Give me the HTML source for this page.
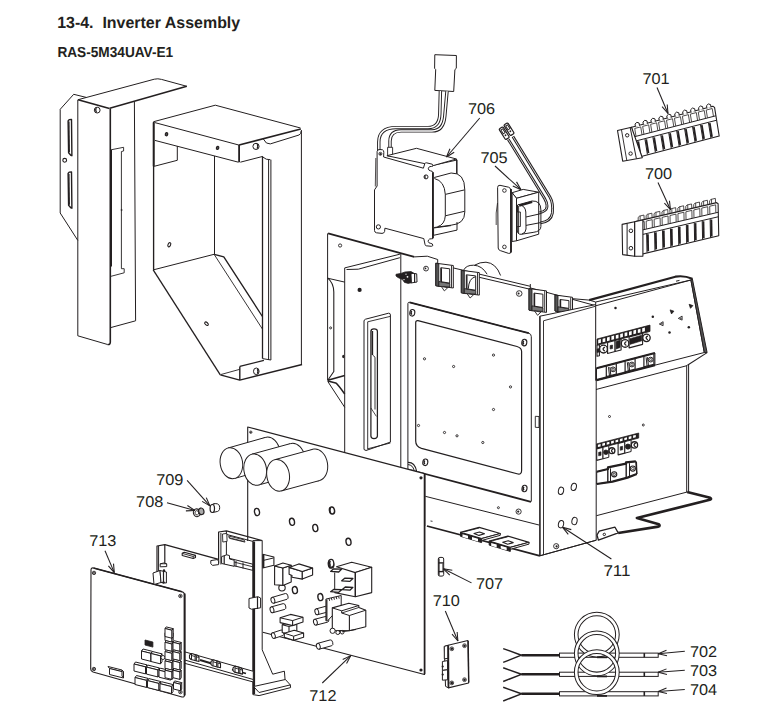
<!DOCTYPE html>
<html><head><meta charset="utf-8"><style>
html,body{margin:0;padding:0;background:#fff;}
svg{display:block;}
text{font-family:"Liberation Sans",sans-serif;fill:#231f20;text-rendering:geometricPrecision;}
</style></head><body>
<svg width="770" height="723" viewBox="0 0 770 723">
<text x="57.2" y="28.25" font-size="16.2" font-weight="bold" textLength="183.0" lengthAdjust="spacingAndGlyphs">13-4.&#160; Inverter Assembly</text>
<text x="57.4" y="56.85" font-size="14.5" font-weight="bold" textLength="115.8" lengthAdjust="spacingAndGlyphs">RAS-5M34UAV-E1</text>
<polyline points="86.2,97.4 73.7,94.3 60.2,109.3 60.2,213 77.8,240.4" fill="none" stroke="#231f20" stroke-width="1.0" stroke-linejoin="round" />
<polygon points="68.1,121 69.2,119.6 71.5,119.4 71.9,155.7 70.8,155.3 68.6,152.8" fill="none" stroke="#231f20" stroke-width="1.4" stroke-linejoin="round" />
<line x1="68.9" y1="121.4" x2="69.3" y2="152.3" stroke="#231f20" stroke-width="1.3" />
<polygon points="68.1,173.5 69.2,172.1 71.5,171.9 71.9,208.2 70.8,207.8 68.6,205.3" fill="none" stroke="#231f20" stroke-width="1.4" stroke-linejoin="round" />
<line x1="68.9" y1="173.9" x2="69.3" y2="204.8" stroke="#231f20" stroke-width="1.3" />
<circle cx="64.7" cy="160.3" r="1.9" fill="#fff" stroke="#231f20" stroke-width="1.1"/>
<path d="M78.1,99.7 L154.3,79.2 Q157.8,78.3 161.5,79.4 L186.8,86.3" fill="none" stroke="#231f20" stroke-width="1.0" stroke-linejoin="round" />
<line x1="186.8" y1="86.3" x2="109.7" y2="108.3" stroke="#231f20" stroke-width="1.5" />
<line x1="78.1" y1="99.7" x2="109.5" y2="108.4" stroke="#231f20" stroke-width="1.6" />
<polyline points="77.8,99.7 77.8,335.8 107.6,344.5" fill="none" stroke="#231f20" stroke-width="1.0" stroke-linejoin="round" />
<path d="M107.6,344.5 Q110.3,345 110.3,342 L110.3,108.4" fill="none" stroke="#231f20" stroke-width="1.6" stroke-linejoin="round" />
<line x1="111.2" y1="150" x2="111.2" y2="266.6" stroke="#231f20" stroke-width="1.6" />
<line x1="134.4" y1="101.8" x2="135.6" y2="320.8" stroke="#231f20" stroke-width="1.0" />
<line x1="135.6" y1="320.8" x2="111" y2="327.5" stroke="#231f20" stroke-width="1.0" />
<polyline points="111,149.8 123.6,147.3 123.6,151 121.4,151.5 121.4,268.7 124.2,268.7 124.2,272.8 111,276.3" fill="none" stroke="#231f20" stroke-width="0.9" stroke-linejoin="round" />
<circle cx="97.2" cy="110.1" r="2.9" fill="#fff" stroke="#231f20" stroke-width="1.0"/>
<path d="M96.2,108 Q95,110.2 96.4,112.4" fill="none" stroke="#231f20" stroke-width="1.4" stroke-linejoin="round" />
<circle cx="121.6" cy="210" r="0.6" fill="none" stroke="#231f20" stroke-width="0.9"/>
<polyline points="153.6,121.7 215.3,105.2 300.5,128" fill="none" stroke="#231f20" stroke-width="1.0" stroke-linejoin="round" />
<line x1="154.5" y1="122.5" x2="239.1" y2="145.1" stroke="#231f20" stroke-width="1.0" />
<line x1="239.1" y1="145.1" x2="300.8" y2="128.9" stroke="#231f20" stroke-width="1.6" />
<line x1="154.9" y1="140.4" x2="238.4" y2="162.2" stroke="#231f20" stroke-width="1.0" />
<line x1="153.6" y1="121.7" x2="153.6" y2="269.9" stroke="#231f20" stroke-width="1.35" />
<line x1="153.7" y1="122.5" x2="153.7" y2="166.3" stroke="#231f20" stroke-width="1.9" />
<line x1="239.1" y1="145.1" x2="239.1" y2="162.2" stroke="#231f20" stroke-width="1.8" />
<polyline points="240.3,162.2 262.8,156.4" fill="none" stroke="#231f20" stroke-width="1.0" stroke-linejoin="round" />
<path d="M263.4,139.1 Q266,144.5 270.3,143.9 L299,135 Q301.2,134 301.2,131" fill="none" stroke="#231f20" stroke-width="1.0" stroke-linejoin="round" />
<line x1="301.4" y1="130" x2="301.4" y2="364.5" stroke="#231f20" stroke-width="1.0" />
<circle cx="256" cy="146.4" r="3.1" fill="#fff" stroke="#231f20" stroke-width="1.0"/>
<path d="M257.2,144.2 Q258.6,146.4 257.2,148.6" fill="none" stroke="#231f20" stroke-width="1.4" stroke-linejoin="round" />
<ellipse cx="166.5" cy="134.2" rx="1.2" ry="1.6" transform="rotate(15 166.5 134.2)" fill="#555" stroke="#231f20" stroke-width="1.2"/>
<ellipse cx="217.6" cy="147.9" rx="1.2" ry="1.6" transform="rotate(15 217.6 147.9)" fill="#555" stroke="#231f20" stroke-width="1.2"/>
<polyline points="177.3,146 177.3,160.3 154.2,166.3" fill="none" stroke="#231f20" stroke-width="1.0" stroke-linejoin="round" />
<line x1="214.5" y1="156" x2="214.5" y2="254.3" stroke="#231f20" stroke-width="1.0" />
<line x1="262.5" y1="156.4" x2="262.5" y2="358.6" stroke="#231f20" stroke-width="1.3" />
<path d="M262.8,157 Q266,160 270.3,159.7" fill="none" stroke="#231f20" stroke-width="1.0" stroke-linejoin="round" />
<line x1="268.6" y1="160" x2="268.6" y2="360" stroke="#231f20" stroke-width="1.0" />
<line x1="270.9" y1="159.7" x2="270.9" y2="360" stroke="#231f20" stroke-width="1.0" />
<line x1="262.5" y1="358.6" x2="270.9" y2="360" stroke="#231f20" stroke-width="1.0" />
<line x1="153.2" y1="269.9" x2="214.1" y2="254.3" stroke="#231f20" stroke-width="1.0" />
<polyline points="214.1,254.3 223.8,256.8 262.4,316.5" fill="none" stroke="#231f20" stroke-width="1.35" stroke-linejoin="round" />
<line x1="214.1" y1="254.3" x2="262.4" y2="329" stroke="#231f20" stroke-width="0.9" />
<line x1="153.2" y1="269.9" x2="220.3" y2="374.9" stroke="#231f20" stroke-width="1.3" />
<polyline points="220.3,374.9 239.8,380.1 302.1,364.5" fill="none" stroke="#231f20" stroke-width="1.4" stroke-linejoin="round" />
<line x1="239.8" y1="366.4" x2="239.8" y2="380.1" stroke="#231f20" stroke-width="1.4" />
<line x1="239.8" y1="366.4" x2="263.9" y2="360.4" stroke="#231f20" stroke-width="1.4" />
<line x1="221" y1="374.5" x2="239.8" y2="369.3" stroke="#231f20" stroke-width="0.9" />
<ellipse cx="169.3" cy="244.8" rx="1.3" ry="2.2" transform="rotate(25 169.3 244.8)" fill="#fff" stroke="#231f20" stroke-width="1.1"/>
<ellipse cx="206.5" cy="323.7" rx="1.3" ry="2.1" transform="rotate(-50 206.5 323.7)" fill="#fff" stroke="#231f20" stroke-width="1.1"/>
<ellipse cx="256.3" cy="371.3" rx="2.8" ry="3.3" transform="rotate(0 256.3 371.3)" fill="#fff" stroke="#231f20" stroke-width="1.0"/>
<path d="M257.4,369.2 Q258.8,371.4 257.4,373.6" fill="none" stroke="#231f20" stroke-width="1.5" stroke-linejoin="round" />
<polygon points="434.8,54.7 456.4,55.5 456.3,68.3 454.9,69.6 453.7,91.5 434.8,90.4 435.7,69.6 434.6,68.3" fill="#fff" stroke="#231f20" stroke-width="1.0" stroke-linejoin="round" />
<path d="M440.4,91 L439.8,114 Q439.4,127.6 428,127.6 L396,127.6 Q378.8,127.8 378.8,142 L378.8,151" fill="none" stroke="#231f20" stroke-width="3.4" stroke-linejoin="round" stroke-linecap="butt"/>
<path d="M440.4,91 L439.8,114 Q439.4,127.6 428,127.6 L396,127.6 Q378.8,127.8 378.8,142 L378.8,151" fill="none" stroke="#fff" stroke-width="1.5" stroke-linejoin="round" stroke-linecap="butt"/>
<path d="M447,91.3 L444.8,116 Q443.6,130.9 432,130.9 L401,130.9 Q390,131.2 390,141 L390,148" fill="none" stroke="#231f20" stroke-width="3.4" stroke-linejoin="round" stroke-linecap="butt"/>
<path d="M447,91.3 L444.8,116 Q443.6,130.9 432,130.9 L401,130.9 Q390,131.2 390,141 L390,148" fill="none" stroke="#fff" stroke-width="1.5" stroke-linejoin="round" stroke-linecap="butt"/>
<polygon points="387.6,147.3 392.6,147.3 392.6,156 387.6,156" fill="#fff" stroke="#231f20" stroke-width="0.9" stroke-linejoin="round" />
<polyline points="433.6,165.2 457,160 457,174.5" fill="none" stroke="#231f20" stroke-width="1.0" stroke-linejoin="round" />
<polygon points="386.9,155.7 416.5,148.3 456.4,159 433.6,165.5" fill="#fff" stroke="#231f20" stroke-width="1.0" stroke-linejoin="round" />
<line x1="456.6" y1="159" x2="456.6" y2="176" stroke="#231f20" stroke-width="1.0" />
<path d="M377.1,151.5 Q377.3,149.3 380,149.5 L382.5,149.8 Q384,150.3 383.8,152.5 L383.6,157 L423.4,168.2 L424.8,163.6 Q425.2,162.6 426.5,162.8 L432.2,164.2 Q433.2,164.6 433,166 Q431.8,166.6 430,166.6 Q428.2,167.2 428.3,168.8 Q428.6,170.6 430.5,170.8 Q432.6,171 433,172.6 L433,238.6 Q431.2,238.8 429.6,239 Q428,239.8 428.2,241.6 Q428.6,243.2 430.8,243.4 Q432.8,243.6 432.8,245.2 Q432.6,246.4 431.4,246.3 L426.2,245.8 Q425.2,245.6 425,244.4 L423.8,238.6 L384.9,228.2 L384.6,231.5 Q384,233.5 382,233.4 L376.5,232.8 Q374.5,232.4 374.5,230.5 L374.5,189.9 L377.1,186 Z" fill="#fff" stroke="#231f20" stroke-width="1.0" stroke-linejoin="round" />
<line x1="375.8" y1="158" x2="375.3" y2="186.5" stroke="#231f20" stroke-width="0.8" />
<line x1="432.9" y1="172.2" x2="432.9" y2="238" stroke="#231f20" stroke-width="1.8" />
<circle cx="380.4" cy="153.8" r="1.5" fill="#fff" stroke="#231f20" stroke-width="0.9"/>
<circle cx="380.4" cy="154" r="0.9" fill="#231f20"/>
<circle cx="426" cy="176.9" r="2" fill="#fff" stroke="#231f20" stroke-width="1.0"/>
<path d="M425.3,175.3 Q424.5,176.9 425.3,178.5" fill="none" stroke="#231f20" stroke-width="1.2" stroke-linejoin="round" />
<circle cx="378.4" cy="226.9" r="2.1" fill="#fff" stroke="#231f20" stroke-width="1.0"/>
<path d="M434.2,177.5 L451.1,173 Q464.8,172.5 464.8,189.9 L464.8,212 Q464.8,224 451.1,225.2 L434.2,227.5" fill="#fff" stroke="#231f20" stroke-width="1.0" stroke-linejoin="round" />
<path d="M434.4,178.5 Q444.6,181 445.3,194.4 L445.3,215.8 Q444.8,224.5 437.5,226.8" fill="none" stroke="#231f20" stroke-width="1.0" stroke-linejoin="round" />
<line x1="445.3" y1="194.4" x2="464.5" y2="189.9" stroke="#231f20" stroke-width="1.0" />
<line x1="445.3" y1="215.8" x2="464.5" y2="211.3" stroke="#231f20" stroke-width="1.0" />
<polyline points="433.6,228.5 433.6,235.3 457,230.1 457,222" fill="none" stroke="#231f20" stroke-width="1.0" stroke-linejoin="round" />
<line x1="433.6" y1="228" x2="451" y2="225.6" stroke="#231f20" stroke-width="1.0" />
<path d="M508.3,139.4 L544.6,198.5 Q548.6,205.5 546,209.5 Q544,212 539.5,212.6" fill="none" stroke="#231f20" stroke-width="2.8" stroke-linejoin="round" stroke-linecap="butt"/>
<path d="M508.3,139.4 L544.6,198.5 Q548.6,205.5 546,209.5 Q544,212 539.5,212.6" fill="none" stroke="#fff" stroke-width="0.8" stroke-linejoin="round" stroke-linecap="butt"/>
<path d="M512.9,136.6 L549.8,196.8 Q553.5,203 552.4,213 Q551,221.5 540.5,222.8" fill="none" stroke="#231f20" stroke-width="2.8" stroke-linejoin="round" stroke-linecap="butt"/>
<path d="M512.9,136.6 L549.8,196.8 Q553.5,203 552.4,213 Q551,221.5 540.5,222.8" fill="none" stroke="#fff" stroke-width="0.8" stroke-linejoin="round" stroke-linecap="butt"/>
<rect x="501.9" y="126.89999999999999" width="4.6" height="12.6" rx="1.2" transform="rotate(-32 504.2 133.2)" fill="#fff" stroke="#231f20" stroke-width="1.2"/>
<rect x="503.09999999999997" y="128.7" width="2.2" height="4.5" transform="rotate(-32 504.2 133.2)" fill="none" stroke="#231f20" stroke-width="0.9"/>
<circle cx="504.2" cy="135.7" r="0.9" fill="#231f20" transform="rotate(-32 504.2 133.2)"/>
<rect x="506.7" y="122.89999999999999" width="4.6" height="12.6" rx="1.2" transform="rotate(-32 509 129.2)" fill="#fff" stroke="#231f20" stroke-width="1.2"/>
<rect x="507.9" y="124.69999999999999" width="2.2" height="4.5" transform="rotate(-32 509 129.2)" fill="none" stroke="#231f20" stroke-width="0.9"/>
<circle cx="509" cy="131.7" r="0.9" fill="#231f20" transform="rotate(-32 509 129.2)"/>
<path d="M497.6,187.5 Q497.7,185 500,185.3 L508.6,187.2 Q510.6,187.8 510.7,190 L511,251.5 Q511,253.8 508.6,253.4 L500.3,250.6 Q498.3,250 498.2,248 Z" fill="none" stroke="#231f20" stroke-width="1.0" stroke-linejoin="round" />
<line x1="511" y1="189" x2="511" y2="252.5" stroke="#231f20" stroke-width="1.8" />
<path d="M497.5,203 Q495.5,212 496.2,225" fill="none" stroke="#231f20" stroke-width="0.8" stroke-linejoin="round" />
<circle cx="504.4" cy="190.5" r="1.8" fill="#fff" stroke="#231f20" stroke-width="0.9"/>
<circle cx="504.4" cy="246.9" r="1.8" fill="#fff" stroke="#231f20" stroke-width="0.9"/>
<polygon points="512.1,192.7 523.2,189.4 538.7,192.2 516.5,198.3" fill="#fff" stroke="#231f20" stroke-width="1.0" stroke-linejoin="round" />
<polygon points="512.1,192.7 516.5,198.3 516.5,240.8 512.1,241.5" fill="#fff" stroke="#231f20" stroke-width="1.0" stroke-linejoin="round" />
<polygon points="516.5,198.3 538.7,192.2 538.7,234.2 516.5,240.8" fill="#fff" stroke="#231f20" stroke-width="1.0" stroke-linejoin="round" />
<path d="M517.5,205 L532,201 Q540.9,200.5 540.9,210 L540.9,226.5 Q540.9,231.5 533.1,232.4 L521,234.3 Q517.3,234.5 517.3,230 Z" fill="none" stroke="#231f20" stroke-width="1.0" stroke-linejoin="round" />
<path d="M518.5,204.5 Q525.4,205.5 525.8,212 L526,229 Q525.8,233 522,234" fill="none" stroke="#231f20" stroke-width="1.0" stroke-linejoin="round" />
<line x1="526" y1="217" x2="540.6" y2="213.7" stroke="#231f20" stroke-width="1.0" />
<line x1="526" y1="225.4" x2="540.6" y2="222.6" stroke="#231f20" stroke-width="1.0" />
<polygon points="517.2,212 520.4,212 520.4,226.5 517.2,226.5" fill="#fff" stroke="#231f20" stroke-width="0.9" stroke-linejoin="round" />
<line x1="519.2" y1="205.6" x2="532.2" y2="202" stroke="#231f20" stroke-width="2.2" />
<line x1="518.6" y1="206" x2="518.6" y2="233.5" stroke="#231f20" stroke-width="0.9" />
<polygon points="631.5,127.2 712.85,106.28 714.55,107.39 719.19,136.01 636.46,157.8" fill="#fff" stroke="#231f20" stroke-width="1.1" stroke-linejoin="round" />
<line x1="634.55" y1="136.7" x2="715.91" y2="115.78" stroke="#231f20" stroke-width="1.0" />
<line x1="635.56" y1="141.06" x2="716.63" y2="120.22" stroke="#231f20" stroke-width="1.0" />
<polyline points="635.97,136.13 634.73,128.43 640.73,126.88 641.98,134.58" fill="none" stroke="#231f20" stroke-width="0.8" stroke-linejoin="round" />
<path d="M635.45,126.7 L635.02,124.03 Q636.67,121.14 639.09,122.99 L639.52,125.65" fill="#fff" stroke="#231f20" stroke-width="1.0" stroke-linejoin="round" />
<line x1="637" y1="141.21" x2="639.48" y2="156.51" stroke="#231f20" stroke-width="1.0" />
<line x1="638.24" y1="141.4" x2="640.48" y2="155.22" stroke="#231f20" stroke-width="1.9" />
<polyline points="643.92,134.08 642.67,126.39 648.67,124.84 649.92,132.54" fill="none" stroke="#231f20" stroke-width="0.8" stroke-linejoin="round" />
<path d="M643.4,124.66 L642.96,121.99 Q644.61,119.1 647.03,120.94 L647.46,123.61" fill="#fff" stroke="#231f20" stroke-width="1.0" stroke-linejoin="round" />
<line x1="644.94" y1="139.17" x2="647.42" y2="154.46" stroke="#231f20" stroke-width="1.0" />
<line x1="646.18" y1="139.36" x2="648.42" y2="153.18" stroke="#231f20" stroke-width="1.9" />
<polyline points="651.86,132.04 650.61,124.34 656.61,122.8 657.86,130.5" fill="none" stroke="#231f20" stroke-width="0.8" stroke-linejoin="round" />
<path d="M651.34,122.61 L650.91,119.95 Q652.56,117.06 654.97,118.9 L655.41,121.57" fill="#fff" stroke="#231f20" stroke-width="1.0" stroke-linejoin="round" />
<line x1="652.88" y1="137.12" x2="655.36" y2="152.42" stroke="#231f20" stroke-width="1.0" />
<line x1="654.12" y1="137.32" x2="656.36" y2="151.14" stroke="#231f20" stroke-width="1.9" />
<polyline points="659.8,130 658.55,122.3 664.56,120.76 665.8,128.46" fill="none" stroke="#231f20" stroke-width="0.8" stroke-linejoin="round" />
<path d="M659.28,120.57 L658.85,117.91 Q660.5,115.02 662.91,116.86 L663.35,119.53" fill="#fff" stroke="#231f20" stroke-width="1.0" stroke-linejoin="round" />
<line x1="660.82" y1="135.08" x2="663.3" y2="150.38" stroke="#231f20" stroke-width="1.0" />
<line x1="662.07" y1="135.28" x2="664.31" y2="149.1" stroke="#231f20" stroke-width="1.9" />
<polyline points="667.74,127.96 666.49,120.26 672.5,118.72 673.75,126.41" fill="none" stroke="#231f20" stroke-width="0.8" stroke-linejoin="round" />
<path d="M667.22,118.53 L666.79,115.87 Q668.44,112.97 670.86,114.82 L671.29,117.48" fill="#fff" stroke="#231f20" stroke-width="1.0" stroke-linejoin="round" />
<line x1="668.77" y1="133.04" x2="671.25" y2="148.34" stroke="#231f20" stroke-width="1.0" />
<line x1="670.01" y1="133.24" x2="672.25" y2="147.05" stroke="#231f20" stroke-width="1.9" />
<polyline points="675.68,125.92 674.43,118.22 680.44,116.67 681.69,124.37" fill="none" stroke="#231f20" stroke-width="0.8" stroke-linejoin="round" />
<path d="M675.16,116.49 L674.73,113.82 Q676.38,110.93 678.8,112.78 L679.23,115.44" fill="#fff" stroke="#231f20" stroke-width="1.0" stroke-linejoin="round" />
<line x1="676.71" y1="131" x2="679.19" y2="146.3" stroke="#231f20" stroke-width="1.0" />
<line x1="677.95" y1="131.19" x2="680.19" y2="145.01" stroke="#231f20" stroke-width="1.9" />
<polyline points="683.62,123.87 682.38,116.18 688.38,114.63 689.63,122.33" fill="none" stroke="#231f20" stroke-width="0.8" stroke-linejoin="round" />
<path d="M683.1,114.45 L682.67,111.78 Q684.32,108.89 686.74,110.74 L687.17,113.4" fill="#fff" stroke="#231f20" stroke-width="1.0" stroke-linejoin="round" />
<line x1="684.65" y1="128.96" x2="687.13" y2="144.26" stroke="#231f20" stroke-width="1.0" />
<line x1="685.89" y1="129.15" x2="688.13" y2="142.97" stroke="#231f20" stroke-width="1.9" />
<polyline points="691.57,121.83 690.32,114.13 696.32,112.59 697.57,120.29" fill="none" stroke="#231f20" stroke-width="0.8" stroke-linejoin="round" />
<path d="M691.05,112.4 L690.61,109.74 Q692.26,106.85 694.68,108.69 L695.11,111.36" fill="#fff" stroke="#231f20" stroke-width="1.0" stroke-linejoin="round" />
<line x1="692.59" y1="126.92" x2="695.07" y2="142.21" stroke="#231f20" stroke-width="1.0" />
<line x1="693.83" y1="127.11" x2="696.07" y2="140.93" stroke="#231f20" stroke-width="1.9" />
<polyline points="699.51,119.79 698.26,112.09 704.26,110.55 705.51,118.25" fill="none" stroke="#231f20" stroke-width="0.8" stroke-linejoin="round" />
<path d="M698.99,110.36 L698.56,107.7 Q700.21,104.81 702.62,106.65 L703.06,109.32" fill="#fff" stroke="#231f20" stroke-width="1.0" stroke-linejoin="round" />
<line x1="700.53" y1="124.87" x2="703.01" y2="140.17" stroke="#231f20" stroke-width="1.0" />
<line x1="701.77" y1="125.07" x2="704.01" y2="138.89" stroke="#231f20" stroke-width="1.9" />
<polyline points="707.45,117.75 706.2,110.05 712.21,108.51 713.45,116.21" fill="none" stroke="#231f20" stroke-width="0.8" stroke-linejoin="round" />
<path d="M706.93,108.32 L706.5,105.66 Q708.15,102.76 710.57,104.61 L711,107.28" fill="#fff" stroke="#231f20" stroke-width="1.0" stroke-linejoin="round" />
<line x1="708.47" y1="122.83" x2="710.95" y2="138.13" stroke="#231f20" stroke-width="1.0" />
<line x1="709.72" y1="123.03" x2="711.96" y2="136.84" stroke="#231f20" stroke-width="1.9" />
<polygon points="617.5,130.5 631.5,127.2 642.3,157.7 622.7,161.2" fill="#fff" stroke="#231f20" stroke-width="1.1" stroke-linejoin="round" />
<line x1="621.5" y1="130" x2="626.8" y2="160.5" stroke="#231f20" stroke-width="0.9" />
<line x1="630.2" y1="127.6" x2="636.4" y2="158.6" stroke="#231f20" stroke-width="1.0" />
<circle cx="627.2" cy="135.3" r="1.7" fill="#fff" stroke="#231f20" stroke-width="1.0"/>
<circle cx="630.6" cy="153.6" r="1.7" fill="#fff" stroke="#231f20" stroke-width="1.0"/>
<polygon points="635.3,221.6 716.61,202.6 718.1,203.76 718.74,235.76 635.98,255.6" fill="#fff" stroke="#231f20" stroke-width="1.1" stroke-linejoin="round" />
<line x1="636.96" y1="231.26" x2="718.27" y2="212.26" stroke="#231f20" stroke-width="1.0" />
<line x1="637.34" y1="235.69" x2="718.36" y2="216.76" stroke="#231f20" stroke-width="1.0" />
<polyline points="638.42,230.72 638.26,222.92 644.25,221.52 644.41,229.32" fill="none" stroke="#231f20" stroke-width="0.8" stroke-linejoin="round" />
<polyline points="638.22,220.92 638.15,217.42 639.59,216.08 643.93,215.06 644.21,219.52" fill="none" stroke="#231f20" stroke-width="0.8" stroke-linejoin="round" />
<line x1="640.08" y1="215.96" x2="640.17" y2="220.46" stroke="#231f20" stroke-width="0.8" />
<line x1="638.72" y1="235.87" x2="639.09" y2="254.37" stroke="#231f20" stroke-width="1.0" />
<line x1="639.89" y1="236.1" x2="640.23" y2="253.1" stroke="#231f20" stroke-width="1.9" />
<polyline points="646.35,228.86 646.2,221.06 652.19,219.66 652.34,227.46" fill="none" stroke="#231f20" stroke-width="0.8" stroke-linejoin="round" />
<polyline points="646.16,219.06 646.09,215.56 647.53,214.22 651.86,213.21 652.15,217.66" fill="none" stroke="#231f20" stroke-width="0.8" stroke-linejoin="round" />
<line x1="648.02" y1="214.11" x2="648.11" y2="218.61" stroke="#231f20" stroke-width="0.8" />
<line x1="646.65" y1="234.02" x2="647.02" y2="252.52" stroke="#231f20" stroke-width="1.0" />
<line x1="647.83" y1="234.24" x2="648.17" y2="251.24" stroke="#231f20" stroke-width="1.9" />
<polyline points="654.29,227.01 654.13,219.21 660.12,217.81 660.28,225.61" fill="none" stroke="#231f20" stroke-width="0.8" stroke-linejoin="round" />
<polyline points="654.09,217.21 654.02,213.71 655.47,212.37 659.8,211.36 660.08,215.81" fill="none" stroke="#231f20" stroke-width="0.8" stroke-linejoin="round" />
<line x1="655.95" y1="212.25" x2="656.04" y2="216.75" stroke="#231f20" stroke-width="0.8" />
<line x1="654.59" y1="232.16" x2="654.96" y2="250.66" stroke="#231f20" stroke-width="1.0" />
<line x1="655.77" y1="232.39" x2="656.11" y2="249.39" stroke="#231f20" stroke-width="1.9" />
<polyline points="662.23,225.16 662.07,217.36 668.06,215.96 668.22,223.76" fill="none" stroke="#231f20" stroke-width="0.8" stroke-linejoin="round" />
<polyline points="662.03,215.36 661.96,211.86 663.4,210.51 667.73,209.5 668.02,213.96" fill="none" stroke="#231f20" stroke-width="0.8" stroke-linejoin="round" />
<line x1="663.89" y1="210.4" x2="663.98" y2="214.9" stroke="#231f20" stroke-width="0.8" />
<line x1="662.53" y1="230.31" x2="662.9" y2="248.81" stroke="#231f20" stroke-width="1.0" />
<line x1="663.7" y1="230.54" x2="664.04" y2="247.54" stroke="#231f20" stroke-width="1.9" />
<polyline points="670.16,223.3 670.01,215.5 676,214.1 676.15,221.9" fill="none" stroke="#231f20" stroke-width="0.8" stroke-linejoin="round" />
<polyline points="669.97,213.5 669.9,210 671.34,208.66 675.67,207.65 675.96,212.1" fill="none" stroke="#231f20" stroke-width="0.8" stroke-linejoin="round" />
<line x1="671.82" y1="208.55" x2="671.91" y2="213.05" stroke="#231f20" stroke-width="0.8" />
<line x1="670.46" y1="228.46" x2="670.83" y2="246.96" stroke="#231f20" stroke-width="1.0" />
<line x1="671.64" y1="228.68" x2="671.98" y2="245.68" stroke="#231f20" stroke-width="1.9" />
<polyline points="678.1,221.45 677.94,213.65 683.93,212.25 684.09,220.05" fill="none" stroke="#231f20" stroke-width="0.8" stroke-linejoin="round" />
<polyline points="677.9,211.65 677.83,208.15 679.27,206.81 683.61,205.79 683.89,210.25" fill="none" stroke="#231f20" stroke-width="0.8" stroke-linejoin="round" />
<line x1="679.76" y1="206.69" x2="679.85" y2="211.19" stroke="#231f20" stroke-width="0.8" />
<line x1="678.4" y1="226.6" x2="678.77" y2="245.1" stroke="#231f20" stroke-width="1.0" />
<line x1="679.58" y1="226.83" x2="679.92" y2="243.83" stroke="#231f20" stroke-width="1.9" />
<polyline points="686.04,219.59 685.88,211.79 691.87,210.39 692.03,218.19" fill="none" stroke="#231f20" stroke-width="0.8" stroke-linejoin="round" />
<polyline points="685.84,209.79 685.77,206.29 687.21,204.95 691.54,203.94 691.83,208.39" fill="none" stroke="#231f20" stroke-width="0.8" stroke-linejoin="round" />
<line x1="687.7" y1="204.84" x2="687.79" y2="209.34" stroke="#231f20" stroke-width="0.8" />
<line x1="686.33" y1="224.75" x2="686.7" y2="243.25" stroke="#231f20" stroke-width="1.0" />
<line x1="687.51" y1="224.97" x2="687.85" y2="241.97" stroke="#231f20" stroke-width="1.9" />
<polyline points="693.97,217.74 693.82,209.94 699.81,208.54 699.96,216.34" fill="none" stroke="#231f20" stroke-width="0.8" stroke-linejoin="round" />
<polyline points="693.78,207.94 693.71,204.44 695.15,203.1 699.48,202.08 699.77,206.54" fill="none" stroke="#231f20" stroke-width="0.8" stroke-linejoin="round" />
<line x1="695.63" y1="202.98" x2="695.72" y2="207.48" stroke="#231f20" stroke-width="0.8" />
<line x1="694.27" y1="222.89" x2="694.64" y2="241.39" stroke="#231f20" stroke-width="1.0" />
<line x1="695.45" y1="223.12" x2="695.79" y2="240.12" stroke="#231f20" stroke-width="1.9" />
<polyline points="701.91,215.88 701.75,208.08 707.74,206.69 707.9,214.49" fill="none" stroke="#231f20" stroke-width="0.8" stroke-linejoin="round" />
<polyline points="701.71,206.08 701.64,202.58 703.08,201.24 707.42,200.23 707.7,204.69" fill="none" stroke="#231f20" stroke-width="0.8" stroke-linejoin="round" />
<line x1="703.57" y1="201.13" x2="703.66" y2="205.63" stroke="#231f20" stroke-width="0.8" />
<line x1="702.21" y1="221.04" x2="702.58" y2="239.54" stroke="#231f20" stroke-width="1.0" />
<line x1="703.39" y1="221.27" x2="703.73" y2="238.27" stroke="#231f20" stroke-width="1.9" />
<polyline points="709.85,214.03 709.69,206.23 715.68,204.83 715.83,212.63" fill="none" stroke="#231f20" stroke-width="0.8" stroke-linejoin="round" />
<polyline points="709.65,204.23 709.58,200.73 711.02,199.39 715.35,198.38 715.64,202.83" fill="none" stroke="#231f20" stroke-width="0.8" stroke-linejoin="round" />
<line x1="711.51" y1="199.28" x2="711.6" y2="203.78" stroke="#231f20" stroke-width="0.8" />
<line x1="710.14" y1="219.18" x2="710.51" y2="237.68" stroke="#231f20" stroke-width="1.0" />
<line x1="711.32" y1="219.41" x2="711.66" y2="236.41" stroke="#231f20" stroke-width="1.9" />
<polygon points="634.6,221.8 642.9,220 642.9,256.1 634.6,256.3" fill="#fff" stroke="#231f20" stroke-width="1.1" stroke-linejoin="round" />
<polygon points="622.1,224.4 634.6,221.8 634.6,256.3 622.6,254.6" fill="#fff" stroke="#231f20" stroke-width="1.1" stroke-linejoin="round" />
<line x1="627.1" y1="223.5" x2="627.1" y2="255.3" stroke="#231f20" stroke-width="1.0" />
<circle cx="630.9" cy="230.8" r="1.8" fill="#fff" stroke="#231f20" stroke-width="1.0"/>
<circle cx="630.9" cy="248.2" r="1.8" fill="#fff" stroke="#231f20" stroke-width="1.0"/>
<line x1="657" y1="87.5" x2="668" y2="113.5" stroke="#231f20" stroke-width="1.05" />
<line x1="668" y1="113.5" x2="662.1" y2="106.7" stroke="#231f20" stroke-width="1.05" />
<line x1="668" y1="113.5" x2="667.23" y2="104.53" stroke="#231f20" stroke-width="1.05" />
<line x1="658" y1="182.5" x2="670.5" y2="209.7" stroke="#231f20" stroke-width="1.05" />
<line x1="670.5" y1="209.7" x2="664.4" y2="203.08" stroke="#231f20" stroke-width="1.05" />
<line x1="670.5" y1="209.7" x2="669.45" y2="200.76" stroke="#231f20" stroke-width="1.05" />
<line x1="328.1" y1="233.4" x2="414.3" y2="256.9" stroke="#231f20" stroke-width="1.8" />
<polyline points="414.3,256.9 427.3,256.2 437.7,259.5 437.7,264.2" fill="none" stroke="#231f20" stroke-width="1.0" stroke-linejoin="round" />
<line x1="437.7" y1="264.2" x2="530.3" y2="286.3" stroke="#231f20" stroke-width="1.0" />
<line x1="478" y1="277" x2="530.3" y2="289.3" stroke="#231f20" stroke-width="1.0" />
<line x1="530.3" y1="284" x2="530.3" y2="289.3" stroke="#231f20" stroke-width="1.0" />
<line x1="530.3" y1="287.9" x2="595.5" y2="305.6" stroke="#231f20" stroke-width="1.0" />
<line x1="572.6" y1="298.7" x2="589.2" y2="300.1" stroke="#231f20" stroke-width="1.0" />
<line x1="327.6" y1="233.4" x2="327.6" y2="380.5" stroke="#231f20" stroke-width="1.0" />
<line x1="327.6" y1="278.2" x2="344.7" y2="282.1" stroke="#231f20" stroke-width="1.0" />
<path d="M327.8,278.2 Q333.6,283 333.8,292 L333.8,371.5 L327.8,380.3" fill="none" stroke="#231f20" stroke-width="1.1" stroke-linejoin="round" />
<line x1="327.8" y1="380.3" x2="344.7" y2="375.6" stroke="#231f20" stroke-width="1.6" />
<path d="M327.8,381 L335.7,382.9 Q338,384.5 344.7,394" fill="none" stroke="#231f20" stroke-width="1.5" stroke-linejoin="round" />
<line x1="327.8" y1="381.5" x2="344.7" y2="407.3" stroke="#231f20" stroke-width="1.0" />
<circle cx="340.1" cy="245.5" r="1.6" fill="#fff" stroke="#231f20" stroke-width="0.9"/>
<path d="M463.4,270.5 Q466,265 473.6,265.2 Q482,265.5 487.1,274.2" fill="none" stroke="#231f20" stroke-width="1.0" stroke-linejoin="round" />
<path d="M474.5,265.2 Q480,262 486,262.2 Q496,263 500.6,275.5" fill="none" stroke="#231f20" stroke-width="1.0" stroke-linejoin="round" />
<polygon points="435.8,263.2 453.3,265.5 453.3,288 435.8,285.7" fill="#fff" stroke="#231f20" stroke-width="1.0" stroke-linejoin="round" />
<polygon points="435.8,263.2 438.8,263.9 438.8,286.4 435.8,285.7" fill="#555" stroke="#231f20" stroke-width="0.9" stroke-linejoin="round" />
<polygon points="438.8,281.5 449.8,283.5 449.8,287 438.8,286.4" fill="#777" stroke="#231f20" stroke-width="0.9" stroke-linejoin="round" />
<polygon points="440.8,267.7 449.7,268.8 449.7,283.1 440.8,281.7" fill="#fff" stroke="#231f20" stroke-width="1.0" stroke-linejoin="round" />
<line x1="441.4" y1="268.2" x2="441.4" y2="281.9" stroke="#231f20" stroke-width="1.2" />
<line x1="451.5" y1="265.6" x2="451.5" y2="287.7" stroke="#231f20" stroke-width="0.9" />
<polygon points="441.35,286.5 447.75,287.7 444.35,290.9" fill="#fff" stroke="#231f20" stroke-width="0.9" stroke-linejoin="round" />
<polygon points="461.3,270.3 479.3,272.6 479.3,295.1 461.3,292.8" fill="#fff" stroke="#231f20" stroke-width="1.0" stroke-linejoin="round" />
<polygon points="461.3,270.3 464.3,271 464.3,293.5 461.3,292.8" fill="#555" stroke="#231f20" stroke-width="0.9" stroke-linejoin="round" />
<polygon points="464.3,288.6 475.8,290.6 475.8,294.1 464.3,293.5" fill="#777" stroke="#231f20" stroke-width="0.9" stroke-linejoin="round" />
<polygon points="466.3,274.8 475.7,275.9 475.7,290.2 466.3,288.8" fill="#fff" stroke="#231f20" stroke-width="1.0" stroke-linejoin="round" />
<line x1="466.9" y1="275.3" x2="466.9" y2="289" stroke="#231f20" stroke-width="1.2" />
<line x1="477.5" y1="272.7" x2="477.5" y2="294.8" stroke="#231f20" stroke-width="0.9" />
<path d="M468.3,288.8 Q468.8,278.3 475.3,276.8" fill="none" stroke="#231f20" stroke-width="1.0" stroke-linejoin="round" />
<polygon points="467.1,293.6 473.5,294.8 470.1,298" fill="#fff" stroke="#231f20" stroke-width="0.9" stroke-linejoin="round" />
<polygon points="529,288.6 546.5,290.9 546.5,312.4 529,310.1" fill="#fff" stroke="#231f20" stroke-width="1.0" stroke-linejoin="round" />
<polygon points="529,288.6 532,289.3 532,310.8 529,310.1" fill="#555" stroke="#231f20" stroke-width="0.9" stroke-linejoin="round" />
<polygon points="532,305.9 543,307.9 543,311.4 532,310.8" fill="#777" stroke="#231f20" stroke-width="0.9" stroke-linejoin="round" />
<polygon points="534,293.1 542.9,294.2 542.9,307.5 534,306.1" fill="#fff" stroke="#231f20" stroke-width="1.0" stroke-linejoin="round" />
<line x1="534.6" y1="293.6" x2="534.6" y2="306.3" stroke="#231f20" stroke-width="1.2" />
<line x1="544.7" y1="291" x2="544.7" y2="312.1" stroke="#231f20" stroke-width="0.9" />
<polygon points="534.55,310.9 540.95,312.1 537.55,315.3" fill="#fff" stroke="#231f20" stroke-width="0.9" stroke-linejoin="round" />
<polygon points="555,295 572.5,297.3 572.5,313.3 555,311" fill="#fff" stroke="#231f20" stroke-width="1.0" stroke-linejoin="round" />
<polygon points="555,295 558,295.7 558,311.7 555,311" fill="#555" stroke="#231f20" stroke-width="0.9" stroke-linejoin="round" />
<polygon points="558,306.8 569,308.8 569,312.3 558,311.7" fill="#777" stroke="#231f20" stroke-width="0.9" stroke-linejoin="round" />
<polygon points="560,299.5 568.9,300.6 568.9,308.4 560,307" fill="#fff" stroke="#231f20" stroke-width="1.0" stroke-linejoin="round" />
<line x1="560.6" y1="300" x2="560.6" y2="307.2" stroke="#231f20" stroke-width="1.2" />
<line x1="570.7" y1="297.4" x2="570.7" y2="313" stroke="#231f20" stroke-width="0.9" />
<polygon points="410.5,273 416.7,273.8 417,282 410.8,283" fill="#fff" stroke="#231f20" stroke-width="1.0" stroke-linejoin="round" />
<line x1="414.6" y1="273.5" x2="414.6" y2="282.5" stroke="#231f20" stroke-width="1.2" />
<polygon points="396,274.3 401,273.4 405,272 411,271.6 413.5,273 411,274 411.5,282.6 408.3,283.4 404.5,282.4 402.5,279.6 398,277.5 396,276" fill="#231f20" stroke="#231f20" stroke-width="0.8" stroke-linejoin="round" />
<circle cx="407.5" cy="276.8" r="0.9" fill="#fff"/><circle cx="404" cy="279.6" r="0.7" fill="#fff"/><circle cx="406" cy="274.2" r="0.6" fill="#fff"/>
<circle cx="426" cy="268.6" r="2.4" fill="#fff" stroke="#231f20" stroke-width="0.9"/>
<circle cx="425.5" cy="268.4" r="0.9" fill="#231f20"/>
<circle cx="519.2" cy="293.5" r="2.8" fill="#fff" stroke="#231f20" stroke-width="0.9"/>
<circle cx="518.6" cy="293.4" r="1" fill="#231f20"/>
<line x1="344.7" y1="267.9" x2="344.7" y2="452.1" stroke="#231f20" stroke-width="1.0" />
<line x1="344.7" y1="267.9" x2="399.9" y2="254.2" stroke="#231f20" stroke-width="1.0" />
<polyline points="346.5,269.5 358.3,269.2 399.9,257.7" fill="none" stroke="#231f20" stroke-width="1.0" stroke-linejoin="round" />
<line x1="400.8" y1="254" x2="400.8" y2="470" stroke="#231f20" stroke-width="1.0" />
<circle cx="359.6" cy="289.9" r="2.1" fill="#231f20"/>
<circle cx="330.6" cy="327.9" r="1" fill="none" stroke="#231f20" stroke-width="0.9"/>
<ellipse cx="343.3" cy="356.5" rx="1.1" ry="1.7" fill="#231f20"/>
<path d="M364,449.5 L364,321 Q364.2,319.6 365.5,319.2 L388.6,313.2 Q390.4,313 390.4,315 L390.4,442.1 L366,450.5 Z" fill="#fff" stroke="#231f20" stroke-width="1.0" stroke-linejoin="round" />
<polyline points="367.7,449.3 367.7,321.8 390.2,316.4" fill="none" stroke="#231f20" stroke-width="0.9" stroke-linejoin="round" />
<line x1="367.7" y1="448.8" x2="390.4" y2="443" stroke="#231f20" stroke-width="0.9" />
<path d="M370.9,436 L370.9,331.5 Q370.9,328.8 374,328.8 Q377.4,328.8 377.4,331.5 L377.4,436 Q377.4,438.5 374,438.5 Q370.9,438.5 370.9,436 Z" fill="none" stroke="#231f20" stroke-width="1.25" stroke-linejoin="round" />
<line x1="372.4" y1="331" x2="372.4" y2="355" stroke="#231f20" stroke-width="1.5" />
<line x1="372.6" y1="355" x2="375" y2="357.2" stroke="#231f20" stroke-width="0.9" />
<line x1="375" y1="357.2" x2="375" y2="409.5" stroke="#231f20" stroke-width="0.9" />
<line x1="370.9" y1="408" x2="376.4" y2="416.4" stroke="#231f20" stroke-width="0.8" />
<path d="M407.9,469.5 L407.9,303.5 Q408,302 409.6,302.4 L528.8,333.2 Q531.3,334 531.3,336.6 L531.3,501.5" fill="none" stroke="#231f20" stroke-width="1.0" stroke-linejoin="round" />
<line x1="409.6" y1="302.4" x2="528.8" y2="333.2" stroke="#231f20" stroke-width="1.8" />
<line x1="408.3" y1="469.5" x2="531" y2="501.8" stroke="#231f20" stroke-width="1.8" />
<ellipse cx="412.3" cy="312.8" rx="2.5" ry="3.3" transform="rotate(10 412.3 312.8)" fill="#fff" stroke="#231f20" stroke-width="1.1"/>
<path d="M411.7,311 Q410.3,312.8 411.7,314.6" fill="none" stroke="#231f20" stroke-width="1.5" stroke-linejoin="round" />
<ellipse cx="524.3" cy="342.6" rx="2.5" ry="3.3" transform="rotate(10 524.3 342.6)" fill="#fff" stroke="#231f20" stroke-width="1.1"/>
<path d="M523.7,340.8 Q522.3,342.6 523.7,344.4" fill="none" stroke="#231f20" stroke-width="1.5" stroke-linejoin="round" />
<ellipse cx="425.3" cy="462.3" rx="2.5" ry="3.3" transform="rotate(10 425.3 462.3)" fill="#fff" stroke="#231f20" stroke-width="1.1"/>
<path d="M424.7,460.5 Q423.3,462.3 424.7,464.1" fill="none" stroke="#231f20" stroke-width="1.5" stroke-linejoin="round" />
<ellipse cx="524.5" cy="488.5" rx="2.5" ry="3.3" transform="rotate(10 524.5 488.5)" fill="#fff" stroke="#231f20" stroke-width="1.1"/>
<path d="M523.9,486.7 Q522.5,488.5 523.9,490.3" fill="none" stroke="#231f20" stroke-width="1.5" stroke-linejoin="round" />
<path d="M415.7,441 L415.7,322.6 Q415.8,320.3 418,320.7 L517,346.5 Q521.6,347.8 521.6,351.5 L521.6,470.5 Q521.6,474.5 518,474 L421.5,448.3 Q415.7,446.6 415.7,441 Z" fill="none" stroke="#231f20" stroke-width="1.2" stroke-linejoin="round" />
<circle cx="424.5" cy="358.8" r="1.1" fill="none" stroke="#231f20" stroke-width="0.9"/>
<circle cx="453.6" cy="366.5" r="1.1" fill="none" stroke="#231f20" stroke-width="0.9"/>
<circle cx="493.5" cy="355.1" r="1.1" fill="none" stroke="#231f20" stroke-width="0.9"/>
<circle cx="510.5" cy="386.9" r="1.1" fill="none" stroke="#231f20" stroke-width="0.9"/>
<circle cx="493.5" cy="409.5" r="1.1" fill="none" stroke="#231f20" stroke-width="0.9"/>
<circle cx="418.5" cy="425.5" r="1.1" fill="none" stroke="#231f20" stroke-width="0.9"/>
<circle cx="444.5" cy="432.5" r="1.1" fill="none" stroke="#231f20" stroke-width="0.9"/>
<circle cx="457" cy="435.8" r="1.1" fill="none" stroke="#231f20" stroke-width="0.9"/>
<circle cx="482.8" cy="442.5" r="1.1" fill="none" stroke="#231f20" stroke-width="0.9"/>
<polygon points="539.9,316.2 596.2,304.5 596.2,540.2 539.9,555.8" fill="#fff" stroke="#231f20" stroke-width="1.0" stroke-linejoin="round" />
<line x1="543.5" y1="320.8" x2="595.4" y2="306.3" stroke="#231f20" stroke-width="0.9" />
<line x1="543.5" y1="320.8" x2="543.5" y2="555" stroke="#231f20" stroke-width="0.9" />
<line x1="539.9" y1="316.2" x2="539.9" y2="556" stroke="#231f20" stroke-width="1.2" />
<polygon points="535.3,416.3 539,416.5 539,427.5 535.3,427.3" fill="#fff" stroke="#231f20" stroke-width="0.9" stroke-linejoin="round" />
<line x1="425.3" y1="496.3" x2="539" y2="525" stroke="#231f20" stroke-width="1.0" />
<circle cx="498.4" cy="507.7" r="1" fill="none" stroke="#231f20" stroke-width="0.9"/>
<circle cx="518.6" cy="511.6" r="2.6" fill="#fff" stroke="#231f20" stroke-width="0.9"/>
<circle cx="518.2" cy="511.6" r="1.1" fill="#231f20"/>
<line x1="424.5" y1="474.5" x2="424.5" y2="526" stroke="#231f20" stroke-width="1.6" />
<line x1="426.9" y1="526" x2="539.9" y2="555.8" stroke="#231f20" stroke-width="1.8" />
<line x1="430.5" y1="521" x2="432.5" y2="521.3" stroke="#231f20" stroke-width="0.9" />
<path d="M408,462.4 Q414.8,462.2 416.6,471.2" fill="none" stroke="#231f20" stroke-width="1.1" stroke-linejoin="round" />
<path d="M408,464.6 Q412.8,464.8 414.2,470.6" fill="none" stroke="#231f20" stroke-width="1.0" stroke-linejoin="round" />
<polygon points="460.5,532.3 481.6,538.6 481.6,542.6 460.5,536.3" fill="#231f20" stroke="#231f20" stroke-width="1.0" stroke-linejoin="round" />
<polygon points="462.5,534.2 468,535.8 468,538.6 462.5,537" fill="#fff" stroke="#231f20" stroke-width="0" stroke-linejoin="round" stroke="none"/>
<polygon points="472,536.9 478,538.7 478,541.5 472,539.7" fill="#fff" stroke="#231f20" stroke-width="0" stroke-linejoin="round" stroke="none"/>
<polygon points="460.5,532.3 479.2,527.4 500.3,533.5 481.6,538.6" fill="#fff" stroke="#231f20" stroke-width="1.2" stroke-linejoin="round" />
<polygon points="474,533.5 479.5,532 484.5,533.8 479,535.4" fill="#fff" stroke="#231f20" stroke-width="1.1" stroke-linejoin="round" />
<polygon points="481.6,538.6 500.3,533.5 500.3,535.3 481.6,540.5" fill="#fff" stroke="#231f20" stroke-width="1.0" stroke-linejoin="round" />
<line x1="464" y1="531.8" x2="479" y2="528" stroke="#231f20" stroke-width="0.9" />
<polygon points="489.2,541.1 510.3,547.4 510.3,551.4 489.2,545.1" fill="#231f20" stroke="#231f20" stroke-width="1.0" stroke-linejoin="round" />
<polygon points="491.2,543 496.7,544.6 496.7,547.4 491.2,545.8" fill="#fff" stroke="#231f20" stroke-width="0" stroke-linejoin="round" stroke="none"/>
<polygon points="500.7,545.7 506.7,547.5 506.7,550.3 500.7,548.5" fill="#fff" stroke="#231f20" stroke-width="0" stroke-linejoin="round" stroke="none"/>
<polygon points="489.2,541.1 507.9,536.2 529,542.3 510.3,547.4" fill="#fff" stroke="#231f20" stroke-width="1.2" stroke-linejoin="round" />
<polygon points="502.7,542.3 508.2,540.8 513.2,542.6 507.7,544.2" fill="#fff" stroke="#231f20" stroke-width="1.1" stroke-linejoin="round" />
<polygon points="510.3,547.4 529,542.3 529,544.1 510.3,549.3" fill="#fff" stroke="#231f20" stroke-width="1.0" stroke-linejoin="round" />
<line x1="492.7" y1="540.6" x2="507.7" y2="536.8" stroke="#231f20" stroke-width="0.9" />
<ellipse cx="561" cy="524.2" rx="2.6" ry="3.7" transform="rotate(12 561 524.2)" fill="#fff" stroke="#231f20" stroke-width="1.0"/>
<ellipse cx="574.5" cy="521" rx="2.6" ry="3.7" transform="rotate(12 574.5 521)" fill="#fff" stroke="#231f20" stroke-width="1.0"/>
<ellipse cx="561" cy="490.8" rx="2.6" ry="3.7" transform="rotate(12 561 490.8)" fill="#fff" stroke="#231f20" stroke-width="1.0"/>
<ellipse cx="573.8" cy="486.9" rx="2.6" ry="3.7" transform="rotate(12 573.8 486.9)" fill="#fff" stroke="#231f20" stroke-width="1.0"/>
<circle cx="556.2" cy="546.2" r="2.6" fill="#fff" stroke="#231f20" stroke-width="0.9"/>
<circle cx="556.6" cy="546.4" r="1.1" fill="#231f20"/>
<polygon points="595.7,302 690.9,280 704.3,352.5 595.7,380.4" fill="#fff" stroke="#231f20" stroke-width="1.0" stroke-linejoin="round" />
<polygon points="690.9,280 692.3,278.6 707.1,352.6 704.3,352.5" fill="#555" stroke="#231f20" stroke-width="1.0" stroke-linejoin="round" />
<path d="M589.2,300.1 L675.4,276.7 Q684,275.2 692.3,278.8" fill="none" stroke="#231f20" stroke-width="2.2" stroke-linejoin="round" />
<line x1="589.2" y1="300.1" x2="595.7" y2="302" stroke="#231f20" stroke-width="1.0" />
<line x1="595.7" y1="305.8" x2="690.9" y2="280" stroke="#231f20" stroke-width="1.0" />
<line x1="707.1" y1="352.6" x2="687.4" y2="365.3" stroke="#231f20" stroke-width="1.1" />
<line x1="686.4" y1="365.8" x2="596" y2="389.5" stroke="#231f20" stroke-width="1.0" />
<line x1="676" y1="281.2" x2="679.5" y2="280.4" stroke="#231f20" stroke-width="1.0" />
<circle cx="615.5" cy="308" r="1.25" fill="#231f20"/>
<circle cx="652.8" cy="316.7" r="1.25" fill="#231f20"/>
<circle cx="669.5" cy="332.6" r="1.25" fill="#231f20"/>
<circle cx="688.8" cy="327.2" r="1.25" fill="#231f20"/>
<polygon points="670.1,309.9 673.9,311.2 671.5,313.9" fill="#231f20" stroke="#231f20" stroke-width="0.8" stroke-linejoin="round" />
<polygon points="689.1,304.3 692.9,305.6 690.5,308.3" fill="#231f20" stroke="#231f20" stroke-width="0.8" stroke-linejoin="round" />
<polygon points="663.1,321.7 663.1,325.7 659.3,324" fill="#fff" stroke="#231f20" stroke-width="0.9" stroke-linejoin="round" />
<circle cx="661.9" cy="323.8" r="0.7" fill="#231f20"/>
<polygon points="682.1,316.1 682.1,320.1 678.3,318.4" fill="#fff" stroke="#231f20" stroke-width="0.9" stroke-linejoin="round" />
<circle cx="680.9" cy="318.20000000000005" r="0.7" fill="#231f20"/>
<polygon points="597,339 650,325.11 650,331.41 597,345.3" fill="#231f20" stroke="#231f20" stroke-width="0.8" stroke-linejoin="round" />
<polygon points="598.2,339.79 600.9,339.08 600.9,342.78 598.2,343.49" fill="#fff" stroke="#231f20" stroke-width="0" stroke-linejoin="round" stroke="none"/>
<polygon points="602.6,338.63 605.3,337.93 605.3,341.63 602.6,342.33" fill="#fff" stroke="#231f20" stroke-width="0" stroke-linejoin="round" stroke="none"/>
<polygon points="607,337.48 609.7,336.77 609.7,340.47 607,341.18" fill="#fff" stroke="#231f20" stroke-width="0" stroke-linejoin="round" stroke="none"/>
<polygon points="611.4,336.33 614.1,335.62 614.1,339.32 611.4,340.03" fill="#fff" stroke="#231f20" stroke-width="0" stroke-linejoin="round" stroke="none"/>
<polygon points="615.8,335.17 618.5,334.47 618.5,338.17 615.8,338.87" fill="#fff" stroke="#231f20" stroke-width="0" stroke-linejoin="round" stroke="none"/>
<polygon points="620.2,334.02 622.9,333.31 622.9,337.01 620.2,337.72" fill="#fff" stroke="#231f20" stroke-width="0" stroke-linejoin="round" stroke="none"/>
<polygon points="624.6,332.87 627.3,332.16 627.3,335.86 624.6,336.57" fill="#fff" stroke="#231f20" stroke-width="0" stroke-linejoin="round" stroke="none"/>
<polygon points="629,331.72 631.7,331.01 631.7,334.71 629,335.42" fill="#fff" stroke="#231f20" stroke-width="0" stroke-linejoin="round" stroke="none"/>
<polygon points="633.4,330.56 636.1,329.86 636.1,333.56 633.4,334.26" fill="#fff" stroke="#231f20" stroke-width="0" stroke-linejoin="round" stroke="none"/>
<polygon points="637.8,329.41 640.5,328.7 640.5,332.4 637.8,333.11" fill="#fff" stroke="#231f20" stroke-width="0" stroke-linejoin="round" stroke="none"/>
<polygon points="642.2,328.26 644.9,327.55 644.9,331.25 642.2,331.96" fill="#fff" stroke="#231f20" stroke-width="0" stroke-linejoin="round" stroke="none"/>
<polygon points="597,345.3 599.4,344.67 599.4,355.67 597,356.3" fill="#fff" stroke="#231f20" stroke-width="1.1" stroke-linejoin="round" />
<polygon points="597,348.99 599.4,348.49 599.4,351.99 597,352.49" fill="#231f20" stroke="#231f20" stroke-width="0.6" stroke-linejoin="round" />
<circle cx="603.5" cy="349.1" r="3.9" fill="#fff" stroke="#231f20" stroke-width="1.3"/>
<path d="M604.8,347.1 Q601.3,349.1 604.8,351.1" fill="none" stroke="#231f20" stroke-width="1.3" stroke-linejoin="round" />
<polygon points="607.6,342.52 615.1,340.56 615.1,351.56 607.6,353.52" fill="#fff" stroke="#231f20" stroke-width="1.1" stroke-linejoin="round" />
<polygon points="610.15,345.54 612.55,345.04 612.55,348.54 610.15,349.04" fill="#231f20" stroke="#231f20" stroke-width="0.6" stroke-linejoin="round" />
<polygon points="615.1,340.56 621.1,338.99 621.1,349.99 615.1,351.56" fill="#fff" stroke="#231f20" stroke-width="1.1" stroke-linejoin="round" />
<polygon points="616.1,341.56 620.1,339.99 620.1,347.49 616.1,349.06" fill="#231f20" stroke="#231f20" stroke-width="0.6" stroke-linejoin="round" />
<circle cx="625.1" cy="343.44" r="3.8" fill="#fff" stroke="#231f20" stroke-width="1.3"/>
<path d="M626.4,341.44 Q622.9,343.44 626.4,345.44" fill="none" stroke="#231f20" stroke-width="1.3" stroke-linejoin="round" />
<polygon points="629.1,336.89 642.6,333.35 642.6,344.35 629.1,347.89" fill="#fff" stroke="#231f20" stroke-width="1.1" stroke-linejoin="round" />
<polygon points="629.9,338.69 641.8,335.15 641.8,340.85 629.9,344.39" fill="#231f20" stroke="#231f20" stroke-width="0.6" stroke-linejoin="round" />
<circle cx="646.5" cy="337.83" r="3.7" fill="#fff" stroke="#231f20" stroke-width="1.3"/>
<path d="M647.8,335.83 Q644.3,337.83 647.8,339.83" fill="none" stroke="#231f20" stroke-width="1.3" stroke-linejoin="round" />
<polygon points="596.5,368.2 654.9,353.02 654.9,365.02 596.5,380.2" fill="#fff" stroke="#231f20" stroke-width="1.0" stroke-linejoin="round" />
<line x1="596.5" y1="368.2" x2="654.9" y2="353.02" stroke="#231f20" stroke-width="2.2" />
<line x1="596.5" y1="380.2" x2="654.9" y2="365.02" stroke="#231f20" stroke-width="2.4" />
<polygon points="606.3,366.15 616.3,363.55 616.3,374.05 606.3,376.65" fill="#fff" stroke="#231f20" stroke-width="1.2" stroke-linejoin="round" />
<line x1="608.5" y1="367.15" x2="609.5" y2="376.15" stroke="#231f20" stroke-width="1.0" />
<line x1="609.9" y1="366.95" x2="610.9" y2="375.95" stroke="#231f20" stroke-width="1.0" />
<circle cx="613.1" cy="369.38" r="2.4" fill="#fff" stroke="#231f20" stroke-width="1.0"/>
<circle cx="613.1" cy="369.38" r="1.1" fill="#fff" stroke="#231f20" stroke-width="0.8"/>
<polygon points="625.1,361.26 635.1,358.66 635.1,369.16 625.1,371.76" fill="#fff" stroke="#231f20" stroke-width="1.2" stroke-linejoin="round" />
<line x1="627.3" y1="362.26" x2="628.3" y2="371.26" stroke="#231f20" stroke-width="1.0" />
<line x1="628.7" y1="362.06" x2="629.7" y2="371.06" stroke="#231f20" stroke-width="1.0" />
<circle cx="631.9" cy="364.5" r="2.4" fill="#fff" stroke="#231f20" stroke-width="1.0"/>
<circle cx="631.9" cy="364.5" r="1.1" fill="#fff" stroke="#231f20" stroke-width="0.8"/>
<polygon points="643.9,356.38 653.9,353.78 653.9,364.28 643.9,366.88" fill="#fff" stroke="#231f20" stroke-width="1.2" stroke-linejoin="round" />
<line x1="646.1" y1="357.38" x2="647.1" y2="366.38" stroke="#231f20" stroke-width="1.0" />
<line x1="647.5" y1="357.18" x2="648.5" y2="366.18" stroke="#231f20" stroke-width="1.0" />
<circle cx="650.7" cy="359.61" r="2.4" fill="#fff" stroke="#231f20" stroke-width="1.0"/>
<circle cx="650.7" cy="359.61" r="1.1" fill="#fff" stroke="#231f20" stroke-width="0.8"/>
<line x1="686.7" y1="365" x2="686.7" y2="492" stroke="#231f20" stroke-width="1.0" />
<line x1="688.6" y1="364.5" x2="688.6" y2="491.5" stroke="#231f20" stroke-width="1.0" />
<circle cx="609.5" cy="416.5" r="1" fill="none" stroke="#231f20" stroke-width="0.9"/>
<circle cx="643.3" cy="425" r="1" fill="none" stroke="#231f20" stroke-width="0.9"/>
<polygon points="596.7,443.9 638.7,433.06 638.7,438.06 596.7,448.9" fill="#231f20" stroke="#231f20" stroke-width="0.8" stroke-linejoin="round" />
<polygon points="597.9,444.69 600.6,443.99 600.6,446.39 597.9,447.09" fill="#fff" stroke="#231f20" stroke-width="0" stroke-linejoin="round" stroke="none"/>
<polygon points="602.3,443.56 605,442.86 605,445.26 602.3,445.96" fill="#fff" stroke="#231f20" stroke-width="0" stroke-linejoin="round" stroke="none"/>
<polygon points="606.7,442.42 609.4,441.72 609.4,444.12 606.7,444.82" fill="#fff" stroke="#231f20" stroke-width="0" stroke-linejoin="round" stroke="none"/>
<polygon points="611.1,441.28 613.8,440.59 613.8,442.99 611.1,443.68" fill="#fff" stroke="#231f20" stroke-width="0" stroke-linejoin="round" stroke="none"/>
<polygon points="615.5,440.15 618.2,439.45 618.2,441.85 615.5,442.55" fill="#fff" stroke="#231f20" stroke-width="0" stroke-linejoin="round" stroke="none"/>
<polygon points="619.9,439.01 622.6,438.32 622.6,440.72 619.9,441.41" fill="#fff" stroke="#231f20" stroke-width="0" stroke-linejoin="round" stroke="none"/>
<polygon points="624.3,437.88 627,437.18 627,439.58 624.3,440.28" fill="#fff" stroke="#231f20" stroke-width="0" stroke-linejoin="round" stroke="none"/>
<polygon points="628.7,436.74 631.4,436.05 631.4,438.45 628.7,439.14" fill="#fff" stroke="#231f20" stroke-width="0" stroke-linejoin="round" stroke="none"/>
<polygon points="633.1,435.61 635.8,434.91 635.8,437.31 633.1,438.01" fill="#fff" stroke="#231f20" stroke-width="0" stroke-linejoin="round" stroke="none"/>
<polygon points="596.7,448.9 603,447.27 603,458.77 596.7,460.4" fill="#fff" stroke="#231f20" stroke-width="1.1" stroke-linejoin="round" />
<polygon points="598.65,452.34 601.05,451.84 601.05,455.34 598.65,455.84" fill="#231f20" stroke="#231f20" stroke-width="0.6" stroke-linejoin="round" />
<polygon points="603,447.27 608.8,445.78 608.8,457.28 603,458.77" fill="#fff" stroke="#231f20" stroke-width="1.0" stroke-linejoin="round" />
<circle cx="605.9" cy="452.28" r="2.3" fill="#231f20" stroke="#231f20" stroke-width="0.8"/>
<circle cx="611.95" cy="450.72" r="2.95" fill="#fff" stroke="#231f20" stroke-width="1.3"/>
<path d="M613.25,448.72 Q609.75,450.72 613.25,452.72" fill="none" stroke="#231f20" stroke-width="1.3" stroke-linejoin="round" />
<polygon points="618.1,443.38 624.8,441.65 624.8,453.15 618.1,454.88" fill="#fff" stroke="#231f20" stroke-width="1.1" stroke-linejoin="round" />
<polygon points="620.25,446.76 622.65,446.26 622.65,449.76 620.25,450.26" fill="#231f20" stroke="#231f20" stroke-width="0.6" stroke-linejoin="round" />
<polygon points="624.8,441.65 631.1,440.02 631.1,451.52 624.8,453.15" fill="#fff" stroke="#231f20" stroke-width="1.0" stroke-linejoin="round" />
<circle cx="627.95" cy="446.59" r="2.55" fill="#231f20" stroke="#231f20" stroke-width="0.8"/>
<circle cx="634.45" cy="444.91" r="3.15" fill="#fff" stroke="#231f20" stroke-width="1.3"/>
<path d="M635.75,442.91 Q632.25,444.91 635.75,446.91" fill="none" stroke="#231f20" stroke-width="1.3" stroke-linejoin="round" />
<polygon points="596.7,471.8 608,469 608,467.3 626,463.7 626,462.4 635.8,461.4 636.8,474 627.5,477.6 612.5,481.6 596.7,484" fill="#fff" stroke="#231f20" stroke-width="1.0" stroke-linejoin="round" />
<polyline points="596.7,471.8 608,469 608,467.3 626,463.7 626,462.4 635.8,461.4" fill="none" stroke="#231f20" stroke-width="2.2" stroke-linejoin="round" />
<polyline points="596.7,484 612.5,481.6 627.5,477.6 636.8,474" fill="none" stroke="#231f20" stroke-width="2.2" stroke-linejoin="round" />
<line x1="636.3" y1="461.6" x2="636.8" y2="474" stroke="#231f20" stroke-width="1.4" />
<line x1="607.8" y1="469" x2="607.8" y2="482" stroke="#231f20" stroke-width="1.4" />
<line x1="610.5" y1="468.4" x2="610.5" y2="481.4" stroke="#231f20" stroke-width="1.0" />
<line x1="626.2" y1="463.8" x2="626.2" y2="477.8" stroke="#231f20" stroke-width="1.4" />
<line x1="629.5" y1="463.2" x2="629.5" y2="476.8" stroke="#231f20" stroke-width="1.0" />
<circle cx="614.2" cy="474.3" r="2.6" fill="#fff" stroke="#231f20" stroke-width="1.1"/>
<circle cx="614.2" cy="474.3" r="1.2" fill="#fff" stroke="#231f20" stroke-width="0.8"/>
<circle cx="632.8" cy="468.6" r="2.6" fill="#fff" stroke="#231f20" stroke-width="1.1"/>
<circle cx="632.8" cy="468.6" r="1.2" fill="#fff" stroke="#231f20" stroke-width="0.8"/>
<line x1="596.4" y1="515.7" x2="687.2" y2="492" stroke="#231f20" stroke-width="1.0" />
<path d="M687.2,492 L710.2,497.8 Q712,499 709.8,499.8 L636.9,518 L658.8,524.3 Q660.5,525.8 658.3,526.6 L618.2,533" fill="none" stroke="#231f20" stroke-width="2.7" stroke-linejoin="round" />
<polygon points="598.4,540.2 597,535 599.2,531.2 615,527.2 618.2,532.9" fill="#fff" stroke="#231f20" stroke-width="1.3" stroke-linejoin="round" />
<circle cx="604.3" cy="534.4" r="1.2" fill="#fff" stroke="#231f20" stroke-width="1.0"/>
<line x1="596.4" y1="540.2" x2="539.9" y2="555.8" stroke="#231f20" stroke-width="1.0" />
<polygon points="247.7,427 424.5,473.6 424.5,674.5 247.7,627.7" fill="#fff" stroke="#231f20" stroke-width="0" stroke-linejoin="round" stroke="none"/>
<polyline points="247.7,541 247.7,427 424.5,473.6 424.5,674.5 262.8,632.2" fill="none" stroke="#231f20" stroke-width="1.1" stroke-linejoin="round" />
<line x1="424.6" y1="473.6" x2="424.6" y2="674.2" stroke="#231f20" stroke-width="1.7" />
<circle cx="421" cy="477.8" r="1.6" fill="#231f20"/>
<circle cx="421" cy="670" r="1.6" fill="#231f20"/>
<circle cx="250.8" cy="432.2" r="1.2" fill="#fff" stroke="#231f20" stroke-width="0.8"/>
<circle cx="250.8" cy="432.2" r="0.8" fill="#231f20"/>
<ellipse cx="257" cy="512" rx="2.5" ry="3.6" transform="rotate(-10 257 512)" fill="#fff" stroke="#231f20" stroke-width="1.35"/>
<ellipse cx="292" cy="521.8" rx="2.5" ry="3.6" transform="rotate(-10 292 521.8)" fill="#fff" stroke="#231f20" stroke-width="1.35"/>
<ellipse cx="315.3" cy="528" rx="2.5" ry="3.6" transform="rotate(-10 315.3 528)" fill="#fff" stroke="#231f20" stroke-width="1.35"/>
<ellipse cx="348.5" cy="541.8" rx="2.5" ry="3.6" transform="rotate(-10 348.5 541.8)" fill="#fff" stroke="#231f20" stroke-width="1.35"/>
<ellipse cx="294.9" cy="590.1" rx="2.5" ry="3.6" transform="rotate(-10 294.9 590.1)" fill="#fff" stroke="#231f20" stroke-width="1.35"/>
<ellipse cx="320.4" cy="597.1" rx="2.5" ry="3.6" transform="rotate(-10 320.4 597.1)" fill="#fff" stroke="#231f20" stroke-width="1.35"/>
<ellipse cx="332" cy="510.5" rx="2.5" ry="3.6" transform="rotate(-10 332 510.5)" fill="#fff" stroke="#231f20" stroke-width="1.5"/>
<path d="M330.6,507.8 Q329.3,510.6 330.8,513.4" fill="none" stroke="#231f20" stroke-width="1.3" stroke-linejoin="round" />
<ellipse cx="331" cy="564.4" rx="2.6" ry="3.7" transform="rotate(-10 331 564.4)" fill="#fff" stroke="#231f20" stroke-width="1.5"/>
<path d="M329.6,561.6 Q328.3,564.5 329.8,567.3" fill="none" stroke="#231f20" stroke-width="1.3" stroke-linejoin="round" />
<ellipse cx="268.8" cy="452.6" rx="11.2" ry="15.6" transform="rotate(-9 268.8 452.6)" fill="#fff" stroke="#231f20" stroke-width="1.0"/>
<polygon points="234.78,478.4 272.18,467.8 265.42,437.4 228.02,448" fill="#fff" stroke="#231f20" stroke-width="0" stroke-linejoin="round" stroke="none"/>
<line x1="234.78" y1="478.4" x2="272.18" y2="467.8" stroke="#231f20" stroke-width="1.0" />
<line x1="228.02" y1="448" x2="265.42" y2="437.4" stroke="#231f20" stroke-width="1.0" />
<ellipse cx="231.4" cy="463.2" rx="11.2" ry="15.6" transform="rotate(-9 231.4 463.2)" fill="#fff" stroke="#231f20" stroke-width="1.0"/>
<ellipse cx="293.8" cy="459" rx="11.3" ry="15.8" transform="rotate(-9 293.8 459)" fill="#fff" stroke="#231f20" stroke-width="1.0"/>
<polygon points="258.54,485.02 297.14,474.42 290.46,443.58 251.86,454.18" fill="#fff" stroke="#231f20" stroke-width="0" stroke-linejoin="round" stroke="none"/>
<line x1="258.54" y1="485.02" x2="297.14" y2="474.42" stroke="#231f20" stroke-width="1.0" />
<line x1="251.86" y1="454.18" x2="290.46" y2="443.58" stroke="#231f20" stroke-width="1.0" />
<ellipse cx="255.2" cy="469.6" rx="11.3" ry="15.8" transform="rotate(-9 255.2 469.6)" fill="#fff" stroke="#231f20" stroke-width="1.0"/>
<ellipse cx="316.3" cy="464.9" rx="11.3" ry="16" transform="rotate(-9 316.3 464.9)" fill="#fff" stroke="#231f20" stroke-width="1.0"/>
<polygon points="281.45,490.92 319.65,480.52 312.95,449.28 274.75,459.68" fill="#fff" stroke="#231f20" stroke-width="0" stroke-linejoin="round" stroke="none"/>
<line x1="281.45" y1="490.92" x2="319.65" y2="480.52" stroke="#231f20" stroke-width="1.0" />
<line x1="274.75" y1="459.68" x2="312.95" y2="449.28" stroke="#231f20" stroke-width="1.0" />
<ellipse cx="278.1" cy="475.3" rx="11.3" ry="16" transform="rotate(-9 278.1 475.3)" fill="#fff" stroke="#231f20" stroke-width="1.0"/>
<path d="M273.74,603.18 L287.04,599.28 A1.7999999999999998,3.0 -16.34288254344176 0 0 285.36,593.52 L272.06,597.42 Z" fill="#fff" stroke="#231f20" stroke-width="1.0" stroke-linejoin="round" />
<ellipse cx="272.9" cy="600.3" rx="1.86" ry="3" transform="rotate(-16.34288254344176 272.9 600.3)" fill="#fff" stroke="#231f20" stroke-width="1.0"/>
<path d="M272.8,612.69 L284.8,609.39 A1.7999999999999998,3.0 -15.376251248825987 0 0 283.2,603.61 L271.2,606.91 Z" fill="#fff" stroke="#231f20" stroke-width="1.0" stroke-linejoin="round" />
<ellipse cx="272" cy="609.8" rx="1.86" ry="3" transform="rotate(-15.376251248825987 272 609.8)" fill="#fff" stroke="#231f20" stroke-width="1.0"/>
<path d="M319.1,649.19 L331.8,645.69 A1.7999999999999998,3.0 -15.407703640642033 0 0 330.2,639.91 L317.5,643.41 Z" fill="#fff" stroke="#231f20" stroke-width="1.0" stroke-linejoin="round" />
<ellipse cx="318.3" cy="646.3" rx="1.86" ry="3" transform="rotate(-15.407703640642033 318.3 646.3)" fill="#fff" stroke="#231f20" stroke-width="1.0"/>
<path d="M317.58,614.7 L328.78,611.7 A1.7999999999999998,3.0 -14.995079129176002 0 0 327.22,605.9 L316.02,608.9 Z" fill="#fff" stroke="#231f20" stroke-width="1.0" stroke-linejoin="round" />
<ellipse cx="316.8" cy="611.8" rx="1.86" ry="3" transform="rotate(-14.995079129176002 316.8 611.8)" fill="#fff" stroke="#231f20" stroke-width="1.0"/>
<path d="M316.15,625.1 L327.75,622.1 A1.7999999999999998,3.0 -14.500166766552537 0 0 326.25,616.3 L314.65,619.3 Z" fill="#fff" stroke="#231f20" stroke-width="1.0" stroke-linejoin="round" />
<ellipse cx="315.4" cy="622.2" rx="1.86" ry="3" transform="rotate(-14.500166766552537 315.4 622.2)" fill="#fff" stroke="#231f20" stroke-width="1.0"/>
<polygon points="262.8,554.2 273.9,557 273.9,565.3 262.8,568" fill="#fff" stroke="#231f20" stroke-width="1.1" stroke-linejoin="round" />
<line x1="263.4" y1="560.4" x2="273.4" y2="558" stroke="#231f20" stroke-width="1.0" />
<line x1="263.4" y1="554.5" x2="263.4" y2="567.8" stroke="#231f20" stroke-width="2.0" />
<circle cx="282" cy="587.8" r="3.2" fill="#fff" stroke="#231f20" stroke-width="1.1"/>
<polygon points="274.6,566 282.9,568 282.9,585.4 274.6,584.7" fill="#fff" stroke="#231f20" stroke-width="1.1" stroke-linejoin="round" />
<polygon points="282.9,568 291.2,565.3 291.2,581.9 282.9,585.4" fill="#fff" stroke="#231f20" stroke-width="1.1" stroke-linejoin="round" />
<polygon points="274.6,566 282.9,563 291.2,565.3 282.9,568" fill="#fff" stroke="#231f20" stroke-width="1.1" stroke-linejoin="round" />
<polygon points="289.1,567.4 302.3,571.5 302.3,579.1 292,577.2 292,575.5 289.1,574.3" fill="#fff" stroke="#231f20" stroke-width="1.1" stroke-linejoin="round" />
<polygon points="302.3,571.5 312.6,568.1 312.6,575 302.3,579.1" fill="#fff" stroke="#231f20" stroke-width="1.1" stroke-linejoin="round" />
<polygon points="289.1,567.4 298.8,563.9 312.6,568.1 302.3,571.5" fill="#fff" stroke="#231f20" stroke-width="1.1" stroke-linejoin="round" />
<polygon points="272.5,631.5 281,629 283,636.3 274.5,638.6" fill="#fff" stroke="#231f20" stroke-width="0" stroke-linejoin="round" />
<path d="M274.3,638.36 L282.9,635.56 A1.74,2.9 -18.034285567130226 0 0 281.1,630.04 L272.5,632.84 Z" fill="#fff" stroke="#231f20" stroke-width="1.0" stroke-linejoin="round" />
<ellipse cx="273.4" cy="635.6" rx="1.8" ry="2.9" transform="rotate(-18.034285567130226 273.4 635.6)" fill="#fff" stroke="#231f20" stroke-width="1.0"/>
<polygon points="282.2,624.8 290,622.5 296.8,624.4 296.8,631.6 289,634.6 282.2,632.5" fill="#fff" stroke="#231f20" stroke-width="1.1" stroke-linejoin="round" />
<line x1="289" y1="626.5" x2="289" y2="634.6" stroke="#231f20" stroke-width="1.1" />
<line x1="282.2" y1="624.8" x2="289" y2="626.5" stroke="#231f20" stroke-width="1.1" />
<line x1="289" y1="626.5" x2="296.8" y2="624.4" stroke="#231f20" stroke-width="1.0" />
<polygon points="284.3,633.2 294.2,630.2 303.6,633 303.6,637.2 293.6,640.3 284.3,637.4" fill="#fff" stroke="#231f20" stroke-width="1.1" stroke-linejoin="round" />
<line x1="284.3" y1="633.2" x2="293.6" y2="636.2" stroke="#231f20" stroke-width="1.0" />
<line x1="293.6" y1="636.2" x2="303.6" y2="633" stroke="#231f20" stroke-width="1.0" />
<line x1="293.6" y1="636.2" x2="293.6" y2="640.3" stroke="#231f20" stroke-width="1.1" />
<polygon points="280.1,617.8 290.5,614.4 303,617.2 303,622 292.6,625.6 280.1,622.6" fill="#fff" stroke="#231f20" stroke-width="1.1" stroke-linejoin="round" />
<line x1="280.1" y1="617.8" x2="292.6" y2="620.6" stroke="#231f20" stroke-width="1.0" />
<line x1="292.6" y1="620.6" x2="303" y2="617.2" stroke="#231f20" stroke-width="1.0" />
<line x1="292.6" y1="620.6" x2="292.6" y2="625.6" stroke="#231f20" stroke-width="1.1" />
<line x1="334.7" y1="572.6" x2="334.7" y2="592.6" stroke="#231f20" stroke-width="1.0" />
<polygon points="336.5,566.8 351.7,562.3 371.7,567.3 355.3,572.6" fill="#fff" stroke="#231f20" stroke-width="1.1" stroke-linejoin="round" />
<polygon points="355.3,572.6 371.7,567.3 371.7,592.6 355.3,596.7" fill="#fff" stroke="#231f20" stroke-width="1.1" stroke-linejoin="round" />
<line x1="334.7" y1="592.6" x2="355.3" y2="596.7" stroke="#231f20" stroke-width="1.1" />
<line x1="355.3" y1="572.6" x2="355.3" y2="596.7" stroke="#231f20" stroke-width="1.2" />
<polygon points="330.6,571.4 333.6,568.8 341.7,569.1 338.7,572" fill="#fff" stroke="#231f20" stroke-width="1.3" stroke-linejoin="round" />
<polygon points="341.7,580.8 344.7,578.2 352.9,578.5 349.9,581.4" fill="#fff" stroke="#231f20" stroke-width="1.3" stroke-linejoin="round" />
<polygon points="330.6,591.7 333.6,589.4 341.7,589.7 338.7,592.3" fill="#fff" stroke="#231f20" stroke-width="1.3" stroke-linejoin="round" />
<polygon points="342.3,589.6 345.3,587 352.9,587.3 349.9,590.2" fill="#fff" stroke="#231f20" stroke-width="1.3" stroke-linejoin="round" />
<ellipse cx="331.2" cy="563.2" rx="2.6" ry="3.9" transform="rotate(-5 331.2 563.2)" fill="#fff" stroke="#231f20" stroke-width="1.3"/>
<path d="M330.2,560.6 Q328.7,563.2 330.3,566" fill="none" stroke="#231f20" stroke-width="1.6" stroke-linejoin="round" />
<polygon points="325.9,599.1 341.2,595.5 341.2,606 327.6,620.8 325.9,620.8" fill="#fff" stroke="#231f20" stroke-width="1.0" stroke-linejoin="round" />
<line x1="326.8" y1="599.4" x2="326.8" y2="620.5" stroke="#231f20" stroke-width="1.3" />
<line x1="329" y1="598.6" x2="329.6" y2="600.8" stroke="#231f20" stroke-width="1.0" />
<line x1="331.4" y1="598.05" x2="332" y2="600.25" stroke="#231f20" stroke-width="1.0" />
<line x1="333.8" y1="597.5" x2="334.4" y2="599.7" stroke="#231f20" stroke-width="1.0" />
<line x1="336.2" y1="596.95" x2="336.8" y2="599.15" stroke="#231f20" stroke-width="1.0" />
<line x1="338.6" y1="596.4" x2="339.2" y2="598.6" stroke="#231f20" stroke-width="1.0" />
<polygon points="332.3,607.9 348.8,603.2 358.8,605.5 358.8,607.5 365.8,610.2 365.8,626.7 349.4,630.8 332.3,630.2" fill="#fff" stroke="#231f20" stroke-width="1.1" stroke-linejoin="round" />
<polyline points="332.3,607.9 341.7,610.8 341.7,613 349.4,615.5 365.8,610.2" fill="none" stroke="#231f20" stroke-width="1.0" stroke-linejoin="round" />
<line x1="341.7" y1="610.8" x2="358.8" y2="605.5" stroke="#231f20" stroke-width="1.0" />
<line x1="341.7" y1="613" x2="358.8" y2="607.5" stroke="#231f20" stroke-width="0.9" />
<line x1="349.4" y1="615.5" x2="349.4" y2="630.8" stroke="#231f20" stroke-width="1.1" />
<circle cx="332.6" cy="630.8" r="2.6" fill="#fff" stroke="#231f20" stroke-width="1.0"/>
<circle cx="337.8" cy="632.5" r="2" fill="#fff" stroke="#231f20" stroke-width="1.0"/>
<circle cx="342.2" cy="632.2" r="1.8" fill="#fff" stroke="#231f20" stroke-width="1.0"/>
<line x1="342" y1="631.8" x2="356" y2="629.5" stroke="#231f20" stroke-width="1.0" />
<polyline points="157,572 157,546 164.8,544.6 164.8,564" fill="none" stroke="#231f20" stroke-width="1.2" stroke-linejoin="round" />
<line x1="158.6" y1="546" x2="158.6" y2="571" stroke="#231f20" stroke-width="1.0" />
<polygon points="160.2,563.8 163.8,563 166.7,563.8 166.7,566.6 160.2,566.8" fill="#fff" stroke="#231f20" stroke-width="1.0" stroke-linejoin="round" />
<line x1="160.2" y1="563.8" x2="166.7" y2="563.8" stroke="#231f20" stroke-width="0.8" />
<line x1="164.8" y1="544.6" x2="218.6" y2="559.4" stroke="#231f20" stroke-width="1.4" />
<polygon points="182.2,553.3 184.3,552.2 195.5,555.4 195.5,557.4 193.2,558.5 182.2,555.5" fill="#fff" stroke="#231f20" stroke-width="1.1" stroke-linejoin="round" />
<polyline points="182.3,553.4 193.2,556.5 195.4,555.5" fill="none" stroke="#231f20" stroke-width="0.9" stroke-linejoin="round" />
<line x1="193.2" y1="556.5" x2="193.2" y2="558.4" stroke="#231f20" stroke-width="0.9" />
<polyline points="218.6,563.5 218.6,532 226.4,530.9 262.2,540.6" fill="none" stroke="#231f20" stroke-width="1.2" stroke-linejoin="round" />
<line x1="220.9" y1="533" x2="220.9" y2="564.5" stroke="#231f20" stroke-width="1.0" />
<line x1="226.4" y1="531" x2="226.4" y2="556.5" stroke="#231f20" stroke-width="1.0" />
<line x1="226.4" y1="534.4" x2="252.9" y2="541.4" stroke="#231f20" stroke-width="1.0" />
<polygon points="222.5,534 226.8,533.4 227.1,541.4 222.8,542" fill="#fff" stroke="#231f20" stroke-width="0.9" stroke-linejoin="round" />
<polygon points="228.7,536 244,539.8 245,542.1 229.7,538.4" fill="#fff" stroke="#231f20" stroke-width="0.9" stroke-linejoin="round" />
<line x1="228.7" y1="537.6" x2="244" y2="541.4" stroke="#231f20" stroke-width="0.8" />
<polygon points="210.8,560.6 217,559.6 218.6,560.8 218.6,564.6 212.5,565.4 210.8,563.6" fill="#fff" stroke="#231f20" stroke-width="1.0" stroke-linejoin="round" />
<polygon points="226,557.5 252.9,564.2 252.9,570.4 226,563.8" fill="#fff" stroke="#231f20" stroke-width="1.0" stroke-linejoin="round" />
<line x1="228" y1="560.5" x2="252.9" y2="566.8" stroke="#231f20" stroke-width="0.9" />
<polygon points="221.6,556.6 226.8,554.8 229.5,555.6 229.5,559 234.2,560.2 234.2,566.3 221.6,563.5" fill="#fff" stroke="#231f20" stroke-width="1.0" stroke-linejoin="round" />
<line x1="224.2" y1="556" x2="224.2" y2="564" stroke="#231f20" stroke-width="1.2" />
<line x1="236" y1="561" x2="236" y2="566.5" stroke="#231f20" stroke-width="1.0" />
<line x1="243" y1="562.5" x2="243" y2="568.5" stroke="#231f20" stroke-width="1.0" />
<polygon points="252.9,540.6 262.2,540.6 262.2,649.8 272.7,674.2 284.4,671.2 285.4,683.9 290.3,684.9 290.6,687.6 259.1,695.6 252.9,694.6" fill="#fff" stroke="#231f20" stroke-width="1.0" stroke-linejoin="round" />
<line x1="253.9" y1="541.5" x2="253.9" y2="694" stroke="#231f20" stroke-width="2.4" />
<polygon points="253.6,686.5 285.4,679.5 290.3,684.9 259.1,692.5" fill="#fff" stroke="#231f20" stroke-width="1.0" stroke-linejoin="round" />
<polygon points="249,598.5 258,596.7 260.6,598 260.6,607.8 251.5,609.2 249,608" fill="#fff" stroke="#231f20" stroke-width="1.0" stroke-linejoin="round" />
<line x1="257.5" y1="597" x2="257.5" y2="609" stroke="#231f20" stroke-width="1.2" />
<polygon points="184.6,651.8 253.3,671.3 253.3,682 184.6,663.3" fill="#fff" stroke="#231f20" stroke-width="1.0" stroke-linejoin="round" />
<line x1="184.6" y1="660" x2="253.3" y2="679.5" stroke="#231f20" stroke-width="1.0" />
<line x1="200" y1="660" x2="215" y2="664.5" stroke="#231f20" stroke-width="2.0" />
<line x1="232" y1="669.5" x2="246" y2="673.5" stroke="#231f20" stroke-width="1.6" />
<polygon points="189.5,655.2 191.5,653.5 197.5,655.2 199,657 199,661.5 191,659.5 189.5,658" fill="#fff" stroke="#231f20" stroke-width="1.1" stroke-linejoin="round" />
<line x1="191.5" y1="653.7" x2="191.5" y2="659.8" stroke="#231f20" stroke-width="1.0" />
<line x1="191.5" y1="655.5" x2="198.8" y2="657.5" stroke="#231f20" stroke-width="0.9" />
<polygon points="195,655 196.5,655.3 196.5,660.8 195,660.4" fill="#888" stroke="#231f20" stroke-width="0.8" stroke-linejoin="round" />
<polygon points="211,661.5 213,659.8 219,661.5 220.5,663.3 220.5,667.8 212.5,665.8 211,664.3" fill="#fff" stroke="#231f20" stroke-width="1.1" stroke-linejoin="round" />
<line x1="213" y1="660" x2="213" y2="666.1" stroke="#231f20" stroke-width="1.0" />
<line x1="213" y1="661.8" x2="220.3" y2="663.8" stroke="#231f20" stroke-width="0.9" />
<polygon points="216.5,661.3 218,661.6 218,667.1 216.5,666.7" fill="#888" stroke="#231f20" stroke-width="0.8" stroke-linejoin="round" />
<polygon points="233,667.8 235,666.1 241,667.8 242.5,669.6 242.5,674.1 234.5,672.1 233,670.6" fill="#fff" stroke="#231f20" stroke-width="1.1" stroke-linejoin="round" />
<line x1="235" y1="666.3" x2="235" y2="672.4" stroke="#231f20" stroke-width="1.0" />
<line x1="235" y1="668.1" x2="242.3" y2="670.1" stroke="#231f20" stroke-width="0.9" />
<polygon points="238.5,667.6 240,667.9 240,673.4 238.5,673" fill="#888" stroke="#231f20" stroke-width="0.8" stroke-linejoin="round" />
<path d="M91,570 Q91,567.5 93.5,568 L182,591.7 Q184.6,592.5 184.6,595 L184.6,694.5 Q184.6,697.5 182,697 L93,672 Q90.7,671.2 90.7,669 Z" fill="#fff" stroke="#231f20" stroke-width="1.1" stroke-linejoin="round" />
<line x1="184.6" y1="593.5" x2="184.6" y2="695.5" stroke="#231f20" stroke-width="2.0" />
<line x1="93.5" y1="568" x2="182" y2="591.7" stroke="#231f20" stroke-width="1.5" />
<circle cx="94" cy="572.9" r="1.7" fill="#fff" stroke="#231f20" stroke-width="0.9"/>
<circle cx="94" cy="572.9" r="0.9" fill="#231f20"/>
<circle cx="180.4" cy="596" r="1.7" fill="#fff" stroke="#231f20" stroke-width="0.9"/>
<circle cx="180.4" cy="596" r="0.9" fill="#231f20"/>
<circle cx="93.9" cy="669" r="1.7" fill="#fff" stroke="#231f20" stroke-width="0.9"/>
<circle cx="93.9" cy="669" r="0.9" fill="#231f20"/>
<circle cx="180.4" cy="692.1" r="1.7" fill="#fff" stroke="#231f20" stroke-width="0.9"/>
<circle cx="180.4" cy="692.1" r="0.9" fill="#231f20"/>
<polygon points="153,573 160,570.5 161,582.5 154,584.5" fill="#fff" stroke="#231f20" stroke-width="1.0" stroke-linejoin="round" />
<polygon points="160,570.5 166.4,572 166.4,583 161,582.5" fill="#fff" stroke="#231f20" stroke-width="1.0" stroke-linejoin="round" />
<line x1="163.5" y1="571" x2="163.5" y2="583" stroke="#231f20" stroke-width="1.2" />
<circle cx="164" cy="570.5" r="1.2" fill="#231f20"/>
<circle cx="163.5" cy="582.5" r="1.2" fill="#231f20"/>
<polygon points="109.5,668.5 108,666.5 122,670 123.5,672" fill="#fff" stroke="#231f20" stroke-width="1.0" stroke-linejoin="round" />
<polygon points="109.5,668.5 123.5,672 123.5,678 109.5,674.5" fill="#fff" stroke="#231f20" stroke-width="1.0" stroke-linejoin="round" />
<polygon points="123.5,672 122,670 122,676 123.5,678" fill="#fff" stroke="#231f20" stroke-width="1.0" stroke-linejoin="round" />
<polygon points="134,664 135.5,662 147,664.88 145.5,666.88" fill="#fff" stroke="#231f20" stroke-width="1.0" stroke-linejoin="round" />
<polygon points="134,664 145.5,666.88 145.5,673.88 134,671" fill="#fff" stroke="#231f20" stroke-width="1.0" stroke-linejoin="round" />
<polygon points="145.5,666.88 147,664.88 147,671.88 145.5,673.88" fill="#fff" stroke="#231f20" stroke-width="1.0" stroke-linejoin="round" />
<polygon points="135,677.5 136.5,675.5 148,678.38 146.5,680.38" fill="#fff" stroke="#231f20" stroke-width="1.0" stroke-linejoin="round" />
<polygon points="135,677.5 146.5,680.38 146.5,687.38 135,684.5" fill="#fff" stroke="#231f20" stroke-width="1.0" stroke-linejoin="round" />
<polygon points="146.5,680.38 148,678.38 148,685.38 146.5,687.38" fill="#fff" stroke="#231f20" stroke-width="1.0" stroke-linejoin="round" />
<polygon points="146.5,667.1 148,665.1 159.5,667.98 158,669.98" fill="#fff" stroke="#231f20" stroke-width="1.0" stroke-linejoin="round" />
<polygon points="146.5,667.1 158,669.98 158,676.98 146.5,674.1" fill="#fff" stroke="#231f20" stroke-width="1.0" stroke-linejoin="round" />
<polygon points="158,669.98 159.5,667.98 159.5,674.98 158,676.98" fill="#fff" stroke="#231f20" stroke-width="1.0" stroke-linejoin="round" />
<polygon points="147.5,680.6 149,678.6 160.5,681.48 159,683.48" fill="#fff" stroke="#231f20" stroke-width="1.0" stroke-linejoin="round" />
<polygon points="147.5,680.6 159,683.48 159,690.48 147.5,687.6" fill="#fff" stroke="#231f20" stroke-width="1.0" stroke-linejoin="round" />
<polygon points="159,683.48 160.5,681.48 160.5,688.48 159,690.48" fill="#fff" stroke="#231f20" stroke-width="1.0" stroke-linejoin="round" />
<polygon points="159,670.2 160.5,668.2 172,671.08 170.5,673.08" fill="#fff" stroke="#231f20" stroke-width="1.0" stroke-linejoin="round" />
<polygon points="159,670.2 170.5,673.08 170.5,680.08 159,677.2" fill="#fff" stroke="#231f20" stroke-width="1.0" stroke-linejoin="round" />
<polygon points="170.5,673.08 172,671.08 172,678.08 170.5,680.08" fill="#fff" stroke="#231f20" stroke-width="1.0" stroke-linejoin="round" />
<polygon points="160,683.7 161.5,681.7 173,684.58 171.5,686.58" fill="#fff" stroke="#231f20" stroke-width="1.0" stroke-linejoin="round" />
<polygon points="160,683.7 171.5,686.58 171.5,693.58 160,690.7" fill="#fff" stroke="#231f20" stroke-width="1.0" stroke-linejoin="round" />
<polygon points="171.5,686.58 173,684.58 173,691.58 171.5,693.58" fill="#fff" stroke="#231f20" stroke-width="1.0" stroke-linejoin="round" />
<polygon points="141.5,651 143,649 152.5,651.38 151,653.38" fill="#fff" stroke="#231f20" stroke-width="1.0" stroke-linejoin="round" />
<polygon points="141.5,651 151,653.38 151,661.38 141.5,659" fill="#fff" stroke="#231f20" stroke-width="1.0" stroke-linejoin="round" />
<polygon points="151,653.38 152.5,651.38 152.5,659.38 151,661.38" fill="#fff" stroke="#231f20" stroke-width="1.0" stroke-linejoin="round" />
<polygon points="151,653.5 152.5,651.5 162,653.88 160.5,655.88" fill="#fff" stroke="#231f20" stroke-width="1.0" stroke-linejoin="round" />
<polygon points="151,653.5 160.5,655.88 160.5,663.88 151,661.5" fill="#fff" stroke="#231f20" stroke-width="1.0" stroke-linejoin="round" />
<polygon points="160.5,655.88 162,653.88 162,661.88 160.5,663.88" fill="#fff" stroke="#231f20" stroke-width="1.0" stroke-linejoin="round" />
<polygon points="145,640 152.9,642 152.9,647.1 145,645" fill="#231f20" stroke="#231f20" stroke-width="0.8" stroke-linejoin="round" />
<circle cx="163" cy="657.5" r="2" fill="#fff" stroke="#231f20" stroke-width="0.9"/>
<polygon points="165,633 166.2,631.4 173.2,633.15 172,634.75" fill="#fff" stroke="#231f20" stroke-width="1.0" stroke-linejoin="round" />
<polygon points="165,633 172,634.75 172,642.25 165,640.5" fill="#fff" stroke="#231f20" stroke-width="1.0" stroke-linejoin="round" />
<polygon points="172,634.75 173.2,633.15 173.2,640.65 172,642.25" fill="#fff" stroke="#231f20" stroke-width="1.0" stroke-linejoin="round" />
<polygon points="165,642.3 166.2,640.7 173.2,642.45 172,644.05" fill="#fff" stroke="#231f20" stroke-width="1.0" stroke-linejoin="round" />
<polygon points="165,642.3 172,644.05 172,651.55 165,649.8" fill="#fff" stroke="#231f20" stroke-width="1.0" stroke-linejoin="round" />
<polygon points="172,644.05 173.2,642.45 173.2,649.95 172,651.55" fill="#fff" stroke="#231f20" stroke-width="1.0" stroke-linejoin="round" />
<polygon points="173,642.3 174.2,640.7 181.2,642.45 180,644.05" fill="#fff" stroke="#231f20" stroke-width="1.0" stroke-linejoin="round" />
<polygon points="173,642.3 180,644.05 180,651.55 173,649.8" fill="#fff" stroke="#231f20" stroke-width="1.0" stroke-linejoin="round" />
<polygon points="180,644.05 181.2,642.45 181.2,649.95 180,651.55" fill="#fff" stroke="#231f20" stroke-width="1.0" stroke-linejoin="round" />
<polygon points="165,651.6 166.2,650 173.2,651.75 172,653.35" fill="#fff" stroke="#231f20" stroke-width="1.0" stroke-linejoin="round" />
<polygon points="165,651.6 172,653.35 172,660.85 165,659.1" fill="#fff" stroke="#231f20" stroke-width="1.0" stroke-linejoin="round" />
<polygon points="172,653.35 173.2,651.75 173.2,659.25 172,660.85" fill="#fff" stroke="#231f20" stroke-width="1.0" stroke-linejoin="round" />
<polygon points="173,651.6 174.2,650 181.2,651.75 180,653.35" fill="#fff" stroke="#231f20" stroke-width="1.0" stroke-linejoin="round" />
<polygon points="173,651.6 180,653.35 180,660.85 173,659.1" fill="#fff" stroke="#231f20" stroke-width="1.0" stroke-linejoin="round" />
<polygon points="180,653.35 181.2,651.75 181.2,659.25 180,660.85" fill="#fff" stroke="#231f20" stroke-width="1.0" stroke-linejoin="round" />
<polygon points="165,660.9 166.2,659.3 173.2,661.05 172,662.65" fill="#fff" stroke="#231f20" stroke-width="1.0" stroke-linejoin="round" />
<polygon points="165,660.9 172,662.65 172,670.15 165,668.4" fill="#fff" stroke="#231f20" stroke-width="1.0" stroke-linejoin="round" />
<polygon points="172,662.65 173.2,661.05 173.2,668.55 172,670.15" fill="#fff" stroke="#231f20" stroke-width="1.0" stroke-linejoin="round" />
<polygon points="173,660.9 174.2,659.3 181.2,661.05 180,662.65" fill="#fff" stroke="#231f20" stroke-width="1.0" stroke-linejoin="round" />
<polygon points="173,660.9 180,662.65 180,670.15 173,668.4" fill="#fff" stroke="#231f20" stroke-width="1.0" stroke-linejoin="round" />
<polygon points="180,662.65 181.2,661.05 181.2,668.55 180,670.15" fill="#fff" stroke="#231f20" stroke-width="1.0" stroke-linejoin="round" />
<polygon points="165,670.2 166.2,668.6 173.2,670.35 172,671.95" fill="#fff" stroke="#231f20" stroke-width="1.0" stroke-linejoin="round" />
<polygon points="165,670.2 172,671.95 172,679.45 165,677.7" fill="#fff" stroke="#231f20" stroke-width="1.0" stroke-linejoin="round" />
<polygon points="172,671.95 173.2,670.35 173.2,677.85 172,679.45" fill="#fff" stroke="#231f20" stroke-width="1.0" stroke-linejoin="round" />
<polygon points="173,670.2 174.2,668.6 181.2,670.35 180,671.95" fill="#fff" stroke="#231f20" stroke-width="1.0" stroke-linejoin="round" />
<polygon points="173,670.2 180,671.95 180,679.45 173,677.7" fill="#fff" stroke="#231f20" stroke-width="1.0" stroke-linejoin="round" />
<polygon points="180,671.95 181.2,670.35 181.2,677.85 180,679.45" fill="#fff" stroke="#231f20" stroke-width="1.0" stroke-linejoin="round" />
<polygon points="173.5,682.5 174.7,680.9 181.7,682.65 180.5,684.25" fill="#fff" stroke="#231f20" stroke-width="1.0" stroke-linejoin="round" />
<polygon points="173.5,682.5 180.5,684.25 180.5,690.75 173.5,689" fill="#fff" stroke="#231f20" stroke-width="1.0" stroke-linejoin="round" />
<polygon points="180.5,684.25 181.7,682.65 181.7,689.15 180.5,690.75" fill="#fff" stroke="#231f20" stroke-width="1.0" stroke-linejoin="round" />
<polygon points="165,628.5 166.2,626.9 173.2,628.65 172,630.25" fill="#fff" stroke="#231f20" stroke-width="1.0" stroke-linejoin="round" />
<polygon points="165,628.5 172,630.25 172,638.25 165,636.5" fill="#fff" stroke="#231f20" stroke-width="1.0" stroke-linejoin="round" />
<polygon points="172,630.25 173.2,628.65 173.2,636.65 172,638.25" fill="#fff" stroke="#231f20" stroke-width="1.0" stroke-linejoin="round" />
<ellipse cx="196.8" cy="512.8" rx="3.4" ry="3.9" transform="rotate(-15 196.8 512.8)" fill="#fff" stroke="#231f20" stroke-width="1.1"/>
<ellipse cx="196.8" cy="512.8" rx="1.8" ry="2.2" transform="rotate(-15 196.8 512.8)" fill="#fff" stroke="#231f20" stroke-width="0.8"/>
<ellipse cx="201.3" cy="511.3" rx="2.6" ry="3.3" transform="rotate(-15 201.3 511.3)" fill="#aaa" stroke="#231f20" stroke-width="1.2"/>
<circle cx="215.6" cy="507.7" r="4.1" fill="#fff" stroke="#231f20" stroke-width="1.0"/>
<polygon points="212.3,504.4 215.6,503.6 215.6,511.8 212.3,512.5" fill="#fff" stroke="#231f20" stroke-width="0" stroke-linejoin="round" stroke="none"/>
<line x1="212.3" y1="504.4" x2="215.6" y2="503.6" stroke="#231f20" stroke-width="1.0" />
<line x1="212.3" y1="512.5" x2="215.6" y2="511.8" stroke="#231f20" stroke-width="1.0" />
<ellipse cx="212.3" cy="508.5" rx="2.2" ry="4" transform="rotate(0 212.3 508.5)" fill="#fff" stroke="#231f20" stroke-width="1.2"/>
<rect x="438.3" y="557.4" width="5.4" height="18.7" rx="1.6" fill="#fff" stroke="#231f20" stroke-width="1.0"/>
<line x1="438.3" y1="562.9" x2="443.7" y2="562.9" stroke="#231f20" stroke-width="1.4" />
<line x1="438.3" y1="571.6" x2="443.7" y2="571.6" stroke="#231f20" stroke-width="1.4" />
<line x1="439" y1="558.5" x2="439" y2="575.5" stroke="#231f20" stroke-width="1.2" />
<line x1="442.8" y1="563.5" x2="442.8" y2="571" stroke="#231f20" stroke-width="0.8" />
<polygon points="444.3,646.4 448.1,645.3 448.4,687.9 445.5,686.3" fill="#fff" stroke="#231f20" stroke-width="1.0" stroke-linejoin="round" />
<polygon points="444.3,646.4 448.1,645.3 448.1,658.4 444.3,658.8" fill="#fff" stroke="#231f20" stroke-width="1.0" stroke-linejoin="round" />
<polygon points="442.4,661.5 447.6,660.6 447.6,669.8 442.4,670.4" fill="#fff" stroke="#231f20" stroke-width="1.0" stroke-linejoin="round" />
<polygon points="442.4,670.4 447.6,669.8 447.6,679.8 442.4,680.2" fill="#fff" stroke="#231f20" stroke-width="1.0" stroke-linejoin="round" />
<circle cx="442.7" cy="666.5" r="1.1" fill="#231f20"/><circle cx="442.7" cy="674.6" r="1.1" fill="#231f20"/>
<polygon points="448.1,645.3 467.9,640.5 468.6,683 448.4,687.9" fill="#fff" stroke="#231f20" stroke-width="1.1" stroke-linejoin="round" />
<line x1="448.3" y1="645.5" x2="448.6" y2="687.5" stroke="#231f20" stroke-width="1.6" />
<line x1="468.2" y1="641" x2="468.8" y2="682.5" stroke="#231f20" stroke-width="1.3" />
<circle cx="451.8" cy="648.8" r="1.9" fill="#fff" stroke="#231f20" stroke-width="0.8"/>
<circle cx="451.8" cy="648.8" r="1.3" fill="#231f20"/>
<circle cx="464.5" cy="645.7" r="1.9" fill="#fff" stroke="#231f20" stroke-width="0.8"/>
<circle cx="464.5" cy="645.7" r="1.3" fill="#231f20"/>
<circle cx="451.8" cy="682.9" r="1.9" fill="#fff" stroke="#231f20" stroke-width="0.8"/>
<circle cx="451.8" cy="682.9" r="1.3" fill="#231f20"/>
<circle cx="464.5" cy="679.7" r="1.9" fill="#fff" stroke="#231f20" stroke-width="0.8"/>
<circle cx="464.5" cy="679.7" r="1.3" fill="#231f20"/>
<polyline points="503.2,648.6 521.4,655.2 503.2,662.4" fill="none" stroke="#231f20" stroke-width="1.45" stroke-linejoin="round" />
<line x1="521.4" y1="655.2" x2="559.5" y2="655.2" stroke="#231f20" stroke-width="2.6" />
<rect x="559.5" y="653.1" width="98.7" height="4.2" fill="#fff" stroke="#231f20" stroke-width="1.0"/>
<line x1="644.3" y1="653.1" x2="644.3" y2="657.3" stroke="#231f20" stroke-width="1.6" />
<polyline points="503.2,667.7 521.4,674.3 503.2,681.5" fill="none" stroke="#231f20" stroke-width="1.45" stroke-linejoin="round" />
<line x1="521.4" y1="674.3" x2="559.5" y2="674.3" stroke="#231f20" stroke-width="2.6" />
<rect x="559.5" y="672.2" width="98.7" height="4.2" fill="#fff" stroke="#231f20" stroke-width="1.0"/>
<line x1="644.3" y1="672.2" x2="644.3" y2="676.4" stroke="#231f20" stroke-width="1.6" />
<polyline points="503.2,687.2 521.4,693.8 503.2,701" fill="none" stroke="#231f20" stroke-width="1.45" stroke-linejoin="round" />
<line x1="521.4" y1="693.8" x2="559.5" y2="693.8" stroke="#231f20" stroke-width="2.6" />
<rect x="559.5" y="691.7" width="98.7" height="4.2" fill="#fff" stroke="#231f20" stroke-width="1.0"/>
<line x1="644.3" y1="691.7" x2="644.3" y2="695.9" stroke="#231f20" stroke-width="1.6" />
<circle cx="596.8" cy="634.6" r="20.6" fill="none" stroke="#231f20" stroke-width="4.6"/>
<circle cx="596.8" cy="634.6" r="20.6" fill="none" stroke="#fff" stroke-width="2.6"/>
<circle cx="596.8" cy="653.4" r="20.6" fill="none" stroke="#231f20" stroke-width="4.6"/>
<circle cx="596.8" cy="653.4" r="20.6" fill="none" stroke="#fff" stroke-width="2.6"/>
<circle cx="596.8" cy="672.2" r="20.6" fill="none" stroke="#231f20" stroke-width="4.6"/>
<circle cx="596.8" cy="672.2" r="20.6" fill="none" stroke="#fff" stroke-width="2.6"/>
<line x1="597" y1="657.3" x2="607" y2="657.3" stroke="#231f20" stroke-width="1.8" />
<line x1="597" y1="676.4" x2="607" y2="676.4" stroke="#231f20" stroke-width="1.8" />
<line x1="597" y1="695.9" x2="607" y2="695.9" stroke="#231f20" stroke-width="1.8" />
<text x="467.9" y="114.2" font-size="15.6" font-weight="normal" textLength="27.2" lengthAdjust="spacingAndGlyphs">706</text>
<text x="480.4" y="163" font-size="15.6" font-weight="normal" textLength="27.2" lengthAdjust="spacingAndGlyphs">705</text>
<text x="156.2" y="485.1" font-size="15.6" font-weight="normal" textLength="27.2" lengthAdjust="spacingAndGlyphs">709</text>
<text x="136.1" y="506.8" font-size="15.6" font-weight="normal" textLength="27.2" lengthAdjust="spacingAndGlyphs">708</text>
<text x="89.2" y="545.7" font-size="15.6" font-weight="normal" textLength="27.2" lengthAdjust="spacingAndGlyphs">713</text>
<text x="309.3" y="700.9" font-size="15.6" font-weight="normal" textLength="27.2" lengthAdjust="spacingAndGlyphs">712</text>
<text x="475.9" y="588.7" font-size="15.6" font-weight="normal" textLength="27.2" lengthAdjust="spacingAndGlyphs">707</text>
<text x="432.7" y="606.2" font-size="15.6" font-weight="normal" textLength="27.2" lengthAdjust="spacingAndGlyphs">710</text>
<text x="603.4" y="575.9" font-size="15.6" font-weight="normal" textLength="27.2" lengthAdjust="spacingAndGlyphs">711</text>
<text x="689.9" y="657" font-size="15.6" font-weight="normal" textLength="27.2" lengthAdjust="spacingAndGlyphs">702</text>
<text x="689.9" y="675.8" font-size="15.6" font-weight="normal" textLength="27.2" lengthAdjust="spacingAndGlyphs">703</text>
<text x="689.9" y="694.8" font-size="15.6" font-weight="normal" textLength="27.2" lengthAdjust="spacingAndGlyphs">704</text>
<text x="642.4" y="84.4" font-size="15.6" font-weight="normal" textLength="27.2" lengthAdjust="spacingAndGlyphs">701</text>
<text x="644.9" y="179.4" font-size="15.6" font-weight="normal" textLength="27.2" lengthAdjust="spacingAndGlyphs">700</text>
<line x1="479.75" y1="118" x2="446.5" y2="157" stroke="#231f20" stroke-width="1.05" />
<line x1="446.5" y1="157" x2="449.94" y2="148.68" stroke="#231f20" stroke-width="1.05" />
<line x1="446.5" y1="157" x2="454.17" y2="152.29" stroke="#231f20" stroke-width="1.05" />
<line x1="495" y1="166" x2="521" y2="189.7" stroke="#231f20" stroke-width="1.05" />
<line x1="521" y1="189.7" x2="512.8" y2="185.99" stroke="#231f20" stroke-width="1.05" />
<line x1="521" y1="189.7" x2="516.55" y2="181.88" stroke="#231f20" stroke-width="1.05" />
<line x1="187.1" y1="480.3" x2="209.9" y2="505.9" stroke="#231f20" stroke-width="1.05" />
<line x1="209.9" y1="505.9" x2="202.13" y2="501.36" stroke="#231f20" stroke-width="1.05" />
<line x1="209.9" y1="505.9" x2="206.28" y2="497.66" stroke="#231f20" stroke-width="1.05" />
<line x1="167" y1="502.7" x2="194.9" y2="510.5" stroke="#231f20" stroke-width="1.05" />
<line x1="194.9" y1="510.5" x2="185.91" y2="510.87" stroke="#231f20" stroke-width="1.05" />
<line x1="194.9" y1="510.5" x2="187.41" y2="505.52" stroke="#231f20" stroke-width="1.05" />
<line x1="105" y1="550.7" x2="114.3" y2="572.6" stroke="#231f20" stroke-width="1.05" />
<line x1="114.3" y1="572.6" x2="108.39" y2="565.81" stroke="#231f20" stroke-width="1.05" />
<line x1="114.3" y1="572.6" x2="113.51" y2="563.63" stroke="#231f20" stroke-width="1.05" />
<line x1="322.3" y1="683" x2="350.8" y2="655.6" stroke="#231f20" stroke-width="1.05" />
<line x1="350.8" y1="655.6" x2="346.56" y2="663.54" stroke="#231f20" stroke-width="1.05" />
<line x1="350.8" y1="655.6" x2="342.7" y2="659.53" stroke="#231f20" stroke-width="1.05" />
<line x1="471.5" y1="582.9" x2="443.4" y2="568.8" stroke="#231f20" stroke-width="1.05" />
<line x1="443.4" y1="568.8" x2="452.3" y2="570.15" stroke="#231f20" stroke-width="1.05" />
<line x1="443.4" y1="568.8" x2="449.8" y2="575.12" stroke="#231f20" stroke-width="1.05" />
<line x1="445.3" y1="611" x2="457.9" y2="641" stroke="#231f20" stroke-width="1.05" />
<line x1="457.9" y1="641" x2="452.02" y2="634.19" stroke="#231f20" stroke-width="1.05" />
<line x1="457.9" y1="641" x2="457.15" y2="632.03" stroke="#231f20" stroke-width="1.05" />
<line x1="611.4" y1="559" x2="562.6" y2="527.3" stroke="#231f20" stroke-width="1.05" />
<line x1="562.6" y1="527.3" x2="571.29" y2="529.63" stroke="#231f20" stroke-width="1.05" />
<line x1="562.6" y1="527.3" x2="568.26" y2="534.3" stroke="#231f20" stroke-width="1.05" />
<line x1="684.8" y1="651.3" x2="658.2" y2="653.8" stroke="#231f20" stroke-width="1.05" />
<line x1="658.2" y1="653.8" x2="666.46" y2="650.23" stroke="#231f20" stroke-width="1.05" />
<line x1="658.2" y1="653.8" x2="666.98" y2="655.77" stroke="#231f20" stroke-width="1.05" />
<line x1="684.8" y1="670.3" x2="658.2" y2="672.3" stroke="#231f20" stroke-width="1.05" />
<line x1="658.2" y1="672.3" x2="666.53" y2="668.88" stroke="#231f20" stroke-width="1.05" />
<line x1="658.2" y1="672.3" x2="666.94" y2="674.43" stroke="#231f20" stroke-width="1.05" />
<line x1="684.8" y1="689.4" x2="658.2" y2="691.5" stroke="#231f20" stroke-width="1.05" />
<line x1="658.2" y1="691.5" x2="666.51" y2="688.05" stroke="#231f20" stroke-width="1.05" />
<line x1="658.2" y1="691.5" x2="666.95" y2="693.6" stroke="#231f20" stroke-width="1.05" />
</svg>
</body></html>
